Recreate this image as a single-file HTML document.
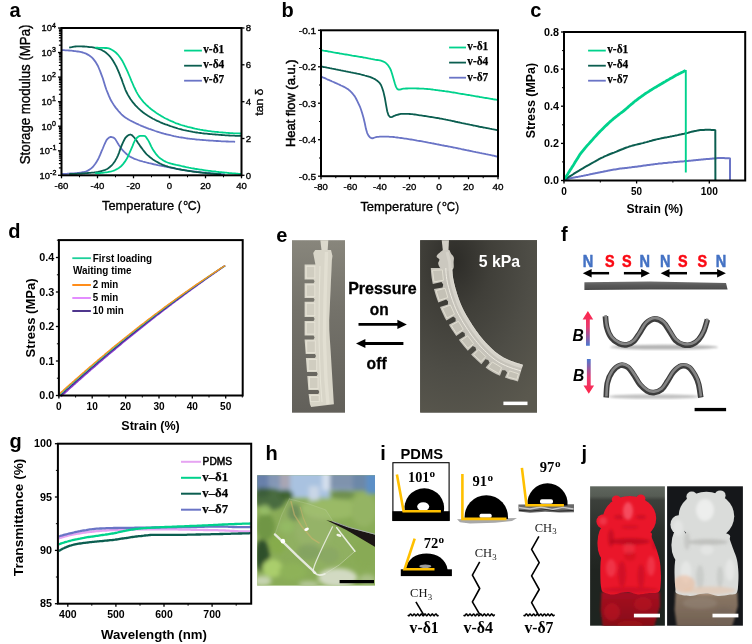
<!DOCTYPE html>
<html lang="en"><head><meta charset="utf-8"><title>Figure</title>
<style>
html,body{margin:0;padding:0;background:#fff;}
body{width:752px;height:644px;overflow:hidden;font-family:"Liberation Sans",Arial,sans-serif;}
svg{display:block;}
</style></head>
<body>
<svg width="752" height="644" viewBox="0 0 752 644" font-family="'Liberation Sans', Arial, sans-serif">
<defs>
<filter id="b1" x="-20%" y="-20%" width="140%" height="140%"><feGaussianBlur stdDeviation="0.75"/></filter>
<filter id="b25" x="-30%" y="-30%" width="160%" height="160%"><feGaussianBlur stdDeviation="2.2"/></filter>
<filter id="b18" x="-30%" y="-30%" width="160%" height="160%"><feGaussianBlur stdDeviation="1.8"/></filter>
<filter id="b2" x="-20%" y="-20%" width="140%" height="140%"><feGaussianBlur stdDeviation="1.2"/></filter>
<filter id="b3" x="-30%" y="-30%" width="160%" height="160%"><feGaussianBlur stdDeviation="2.5"/></filter>
<filter id="b5" x="-40%" y="-40%" width="180%" height="180%"><feGaussianBlur stdDeviation="5"/></filter>
<clipPath id="ce1"><rect x="292" y="240.2" width="53" height="172.5"/></clipPath>
<clipPath id="ce2"><rect x="420.2" y="240.2" width="116.8" height="172.3"/></clipPath>
<clipPath id="ch"><rect x="257.2" y="475.2" width="117.8" height="110.4"/></clipPath>
<clipPath id="cj1"><rect x="590.1" y="486.3" width="74.8" height="139.4"/></clipPath>
<clipPath id="cj2"><rect x="667.1" y="486.3" width="75.8" height="139.4"/></clipPath>
<radialGradient id="ge2" cx="0.3" cy="0.12" r="1.0"><stop offset="0" stop-color="#2d2c28"/><stop offset="0.3" stop-color="#403f39"/><stop offset="0.65" stop-color="#4e4d46"/><stop offset="1" stop-color="#5a584e"/></radialGradient>
<linearGradient id="ge1" x1="0" y1="0" x2="0" y2="1"><stop offset="0" stop-color="#88867c"/><stop offset="0.4" stop-color="#74726a"/><stop offset="1" stop-color="#62605a"/></linearGradient>
<linearGradient id="gj1" x1="0" y1="0" x2="0" y2="1"><stop offset="0" stop-color="#5f665e"/><stop offset="0.07" stop-color="#565c54"/><stop offset="0.1" stop-color="#3c403b"/><stop offset="0.3" stop-color="#2c302c"/><stop offset="0.6" stop-color="#202420"/><stop offset="1" stop-color="#1e2420"/></linearGradient>
<linearGradient id="gup" x1="0" y1="0" x2="0" y2="1"><stop offset="0" stop-color="#ff2448"/><stop offset="0.45" stop-color="#e83a70"/><stop offset="1" stop-color="#4a78d0"/></linearGradient>
<linearGradient id="gdn" x1="0" y1="0" x2="0" y2="1"><stop offset="0" stop-color="#4a78d0"/><stop offset="0.55" stop-color="#e83a70"/><stop offset="1" stop-color="#ff2448"/></linearGradient>
<linearGradient id="gstrip" x1="0" y1="0" x2="0" y2="1"><stop offset="0" stop-color="#707070"/><stop offset="0.4" stop-color="#5a5a5a"/><stop offset="1" stop-color="#4a4a4a"/></linearGradient>
<radialGradient id="gred" cx="0.45" cy="0.35" r="0.7"><stop offset="0" stop-color="#f5202c"/><stop offset="0.6" stop-color="#e0141e"/><stop offset="1" stop-color="#b80c16"/></radialGradient>
<radialGradient id="gwh" cx="0.45" cy="0.35" r="0.7"><stop offset="0" stop-color="#eef1f0"/><stop offset="0.6" stop-color="#dde0df"/><stop offset="1" stop-color="#c4c6c4"/></radialGradient>
<linearGradient id="gwb" x1="0" y1="0" x2="0" y2="1"><stop offset="0" stop-color="#d9dbd8"/><stop offset="0.7" stop-color="#dcd6cf"/><stop offset="1" stop-color="#e6bfa4"/></linearGradient>
<linearGradient id="grb" x1="0" y1="0" x2="0" y2="1"><stop offset="0" stop-color="#d8121c"/><stop offset="1" stop-color="#e01822"/></linearGradient>
</defs>
<rect width="752" height="644" fill="#fff"/>
<g><text x="9.5" y="16.8" font-size="20" font-weight="bold">a</text>
<polyline points="61.5,173.9 62.8,173.9 64,173.9 65.3,173.8 66.5,173.8 67.8,173.7 69,173.6 70.3,173.5 71.5,173.4 72.8,173.4 74,173.3 75.3,173.2 76.5,173.1 77.8,172.9 79,172.8 80.3,172.6 81.5,172.5 82.8,172.2 84,172 85.3,171.7 86.5,171.3 87.8,170.6 89,169.9 90.3,169.1 91.5,168.1 92.8,167 94,165.5 95.3,163.8 96.5,161.9 97.8,159.8 99,157.4 100.3,154.4 101.5,151.4 102.8,148.5 104,145.5 105.3,142.6 106.5,140.2 107.8,138.7 109,137.6 110.3,137 111.5,137 112.8,137.4 114,137.9 115.3,139.1 116.5,141.1 117.8,143.3 119,145.2 120.3,147 121.5,148.7 122.8,150.4 124,151.7 125.3,152.9 126.5,154 127.8,155 129,155.9 130.3,156.7 131.5,157.4 132.8,158 134,158.6 135.3,159.1 136.5,159.5 137.8,160 139,160.4 140.3,160.8 141.5,161.1 142.8,161.5 144,161.8 145.3,162.2 146.5,162.5 147.8,162.8 149,163.2 150.3,163.4 151.5,163.7 152.8,164 154,164.3 155.3,164.5 156.5,164.8 157.8,165.1 159,165.3 160.3,165.6 161.5,165.8 162.8,166 164,166.3 165.3,166.5 166.5,166.8 167.8,167 169,167.3 170.3,167.5 171.5,167.8 172.8,168 174,168.3 175.3,168.5 176.5,168.8 177.8,169 179,169.2 180.3,169.4 181.5,169.7 182.8,169.9 184,170.1 185.3,170.3 186.5,170.4 187.8,170.6 189,170.8 190.3,171 191.5,171.1 192.8,171.3 194,171.4 195.3,171.6 196.5,171.7 197.8,171.9 199,172 200.3,172.2 201.5,172.3 202.8,172.4 204,172.6 205.3,172.7 206.5,172.8 207.8,172.9 209,173 210.3,173.2 211.5,173.3 212.8,173.4 214,173.5 215.3,173.6 216.5,173.7 217.8,173.8 219,173.9 220.3,174 221.5,174.1 222.8,174.1 224,174.2 224.8,174.3" fill="none" stroke="#6a74c6" stroke-width="1.8" stroke-linejoin="round"/>
<polyline points="69.2,173.9 70.4,173.9 71.7,173.9 72.9,173.9 74.2,173.9 75.4,173.8 76.7,173.8 77.9,173.7 79.2,173.7 80.4,173.6 81.7,173.5 82.9,173.4 84.2,173.3 85.4,173.2 86.7,173.1 87.9,173 89.2,172.9 90.4,172.8 91.7,172.7 92.9,172.6 94.2,172.5 95.4,172.3 96.7,172.1 97.9,171.9 99.2,171.6 100.4,171.3 101.7,171 102.9,170.6 104.2,170.2 105.4,169.8 106.7,169.2 107.9,168.5 109.2,167.6 110.4,166.5 111.7,165.3 112.9,164 114.2,162.3 115.4,160.4 116.7,158.1 117.9,155.6 119.2,152.3 120.4,148.6 121.7,145.4 122.9,142.6 124.2,140 125.4,137.8 126.7,136.5 127.9,135.5 129.2,134.8 130.4,134.5 131.7,135 132.9,136.1 134.2,137.5 135.4,139 136.7,140.7 137.9,142.7 139.2,144.6 140.4,146.4 141.7,148.1 142.9,149.8 144.2,151.4 145.4,152.9 146.7,154.3 147.9,155.4 149.2,156.5 150.4,157.6 151.7,158.5 152.9,159.4 154.2,160.3 155.4,161 156.7,161.7 157.9,162.4 159.2,163.1 160.4,163.7 161.7,164.3 162.9,164.8 164.2,165.3 165.4,165.8 166.7,166.2 167.9,166.6 169.2,167 170.4,167.3 171.7,167.6 172.9,167.9 174.2,168.2 175.4,168.5 176.7,168.8 177.9,169.1 179.2,169.3 180.4,169.5 181.7,169.8 182.9,170 184.2,170.2 185.4,170.4 186.7,170.7 187.9,170.9 189.2,171 190.4,171.2 191.7,171.4 192.9,171.6 194.2,171.8 195.4,171.9 196.7,172.1 197.9,172.2 199.2,172.4 200.4,172.5 201.7,172.7 202.9,172.8 204.2,172.9 205.4,173 206.7,173.2 207.9,173.3 209.2,173.4 210.4,173.5 211.7,173.6 212.9,173.7 214.2,173.8 215.4,173.9 216.7,174 217.9,174.1 219.2,174.2 220.4,174.2 221.3,174.3" fill="none" stroke="#0b5e50" stroke-width="1.8" stroke-linejoin="round"/>
<polyline points="95.1,173.2 96.3,173.2 97.6,173.2 98.8,173.1 100.1,173 101.3,172.9 102.6,172.8 103.8,172.6 105.1,172.4 106.3,172.3 107.6,172.1 108.8,171.8 110.1,171.6 111.3,171.4 112.6,171 113.8,170.6 115.1,170 116.3,169.4 117.6,168.7 118.8,168 120.1,167.1 121.3,166 122.6,164.7 123.8,163.1 125.1,161.4 126.3,159.6 127.6,157.3 128.8,154.5 130.1,151.6 131.3,148.8 132.6,145.9 133.8,142.8 135.1,140.2 136.3,138.5 137.6,137.2 138.8,136.3 140.1,135.9 141.3,135.9 142.6,135.9 143.8,135.9 145.1,136.1 146.3,137.4 147.6,139.4 148.8,141.4 150.1,144 151.3,146.6 152.6,149 153.8,150.9 155.1,152.7 156.3,154.4 157.6,155.9 158.8,157.1 160.1,158.2 161.3,159.1 162.6,159.9 163.8,160.7 165.1,161.4 166.3,162 167.6,162.5 168.8,162.9 170.1,163.3 171.3,163.7 172.6,164 173.8,164.3 175.1,164.6 176.3,164.9 177.6,165.1 178.8,165.4 180.1,165.7 181.3,166 182.6,166.3 183.8,166.5 185.1,166.8 186.3,167.1 187.6,167.3 188.8,167.6 190.1,167.8 191.3,168.1 192.6,168.3 193.8,168.5 195.1,168.8 196.3,169 197.6,169.2 198.8,169.4 200.1,169.6 201.3,169.7 202.6,169.9 203.8,170.1 205.1,170.3 206.3,170.5 207.6,170.6 208.8,170.8 210.1,170.9 211.3,171.1 212.6,171.3 213.8,171.4 215.1,171.5 216.3,171.7 217.6,171.8 218.8,172 220.1,172.1 221.3,172.2 222.6,172.4 223.8,172.5 225.1,172.6 226.3,172.7 227.6,172.8 228.8,173 230.1,173.1 231.3,173.2 232.6,173.3 233.8,173.4 235.1,173.5 236.3,173.6 237.6,173.7 238.8,173.8 240.1,173.9 241,173.9" fill="none" stroke="#00d28c" stroke-width="1.8" stroke-linejoin="round"/>
<polyline points="61.5,50.1 62.8,50.2 64,50.2 65.3,50.3 66.5,50.3 67.8,50.4 69,50.5 70.3,50.6 71.5,50.7 72.8,50.8 74,51 75.3,51.1 76.5,51.3 77.8,51.5 79,51.7 80.3,51.9 81.5,52.2 82.8,52.5 84,52.9 85.3,53.3 86.5,53.9 87.8,54.6 89,55.3 90.3,56.2 91.5,57.1 92.8,58.4 94,59.9 95.3,61.6 96.5,63.5 97.8,65.7 99,68.5 100.3,71.6 101.5,74.9 102.8,78.3 104,82.3 105.3,86.4 106.5,90 107.8,93.2 109,96.2 110.3,99 111.5,101.3 112.8,103.4 114,105.3 115.3,107.1 116.5,108.7 117.8,110.2 119,111.7 120.3,113 121.5,114.3 122.8,115.5 124,116.5 125.3,117.5 126.5,118.3 127.8,119.1 129,119.8 130.3,120.5 131.5,121.1 132.8,121.7 134,122.4 135.3,123 136.5,123.6 137.8,124.1 139,124.7 140.3,125.3 141.5,125.8 142.8,126.3 144,126.8 145.3,127.3 146.5,127.8 147.8,128.3 149,128.8 150.3,129.2 151.5,129.7 152.8,130.1 154,130.5 155.3,131 156.5,131.4 157.8,131.8 159,132.2 160.3,132.6 161.5,133 162.8,133.3 164,133.7 165.3,134 166.5,134.3 167.8,134.6 169,134.9 170.3,135.2 171.5,135.5 172.8,135.8 174,136.1 175.3,136.3 176.5,136.6 177.8,136.8 179,137.1 180.3,137.3 181.5,137.5 182.8,137.7 184,137.9 185.3,138.1 186.5,138.3 187.8,138.5 189,138.6 190.3,138.8 191.5,138.9 192.8,139.1 194,139.2 195.3,139.3 196.5,139.5 197.8,139.6 199,139.7 200.3,139.8 201.5,139.9 202.8,140 204,140.1 205.3,140.2 206.5,140.3 207.8,140.4 209,140.5 210.3,140.6 211.5,140.7 212.8,140.7 214,140.8 215.3,140.9 216.5,141 217.8,141 219,141.1 220.3,141.2 221.5,141.3 222.8,141.3 224,141.4 225.3,141.4 226.5,141.5 227.8,141.5 229,141.6 230.3,141.6 231.5,141.7 232.8,141.7 234,141.7 235.1,141.8" fill="none" stroke="#6a74c6" stroke-width="1.8" stroke-linejoin="round"/>
<polyline points="69.2,47.7 70.4,47.4 71.7,47.2 72.9,46.9 74.2,46.7 75.4,46.5 76.7,46.4 77.9,46.4 79.2,46.3 80.4,46.4 81.7,46.4 82.9,46.5 84.2,46.5 85.4,46.6 86.7,46.7 87.9,46.8 89.2,47 90.4,47.1 91.7,47.2 92.9,47.4 94.2,47.7 95.4,48 96.7,48.3 97.9,48.7 99.2,49.1 100.4,49.5 101.7,50 102.9,50.7 104.2,51.4 105.4,52.3 106.7,53.3 107.9,54.4 109.2,55.6 110.4,57 111.7,58.7 112.9,60.6 114.2,62.7 115.4,64.9 116.7,67.3 117.9,70.1 119.2,73.1 120.4,76.3 121.7,79.4 122.9,83 124.2,86.5 125.4,89.8 126.7,92.5 127.9,94.9 129.2,97 130.4,99 131.7,100.8 132.9,102.4 134.2,103.9 135.4,105.4 136.7,106.7 137.9,107.9 139.2,109.1 140.4,110.2 141.7,111.2 142.9,112.2 144.2,113.2 145.4,114.1 146.7,114.9 147.9,115.8 149.2,116.5 150.4,117.3 151.7,118 152.9,118.7 154.2,119.3 155.4,120 156.7,120.6 157.9,121.2 159.2,121.7 160.4,122.3 161.7,122.8 162.9,123.3 164.2,123.8 165.4,124.3 166.7,124.7 167.9,125.2 169.2,125.6 170.4,126.1 171.7,126.5 172.9,126.9 174.2,127.3 175.4,127.7 176.7,128.1 177.9,128.5 179.2,128.9 180.4,129.2 181.7,129.5 182.9,129.9 184.2,130.2 185.4,130.4 186.7,130.7 187.9,130.9 189.2,131.2 190.4,131.4 191.7,131.6 192.9,131.9 194.2,132.1 195.4,132.3 196.7,132.5 197.9,132.7 199.2,132.8 200.4,133 201.7,133.2 202.9,133.3 204.2,133.5 205.4,133.6 206.7,133.7 207.9,133.9 209.2,134 210.4,134.1 211.7,134.2 212.9,134.3 214.2,134.4 215.4,134.5 216.7,134.6 217.9,134.7 219.2,134.8 220.4,134.9 221.7,135 222.9,135.1 224.2,135.2 225.4,135.3 226.7,135.4 227.9,135.4 229.2,135.5 230.4,135.6 231.7,135.6 232.9,135.7 234.2,135.7 235.4,135.8 236.7,135.8 237.9,135.8 239.2,135.9 240.4,135.9 241,135.9" fill="none" stroke="#0b5e50" stroke-width="1.8" stroke-linejoin="round"/>
<polyline points="95.1,47.7 96.3,47.7 97.6,47.7 98.8,47.8 100.1,47.8 101.3,47.8 102.6,47.8 103.8,47.9 105.1,48 106.3,48 107.6,48.1 108.8,48.4 110.1,48.9 111.3,49.5 112.6,50.2 113.8,51 115.1,51.9 116.3,53 117.6,54.3 118.8,55.8 120.1,57.5 121.3,59.2 122.6,61.3 123.8,63.7 125.1,66.3 126.3,68.9 127.6,71.6 128.8,74.5 130.1,77.5 131.3,80.6 132.6,83.5 133.8,86.3 135.1,89 136.3,91.6 137.6,93.9 138.8,95.9 140.1,97.7 141.3,99.3 142.6,100.9 143.8,102.3 145.1,103.6 146.3,104.8 147.6,106 148.8,107.1 150.1,108.2 151.3,109.2 152.6,110.2 153.8,111.1 155.1,112 156.3,112.9 157.6,113.7 158.8,114.5 160.1,115.3 161.3,116.1 162.6,116.8 163.8,117.5 165.1,118.2 166.3,118.8 167.6,119.4 168.8,120 170.1,120.6 171.3,121.2 172.6,121.7 173.8,122.2 175.1,122.8 176.3,123.3 177.6,123.7 178.8,124.2 180.1,124.6 181.3,125 182.6,125.4 183.8,125.7 185.1,126.1 186.3,126.4 187.6,126.8 188.8,127.1 190.1,127.4 191.3,127.7 192.6,128 193.8,128.3 195.1,128.6 196.3,128.8 197.6,129.1 198.8,129.3 200.1,129.6 201.3,129.8 202.6,130 203.8,130.3 205.1,130.5 206.3,130.7 207.6,130.9 208.8,131.1 210.1,131.2 211.3,131.4 212.6,131.6 213.8,131.7 215.1,131.8 216.3,131.9 217.6,132 218.8,132.2 220.1,132.3 221.3,132.4 222.6,132.5 223.8,132.6 225.1,132.7 226.3,132.8 227.6,132.9 228.8,133 230.1,133.1 231.3,133.1 232.6,133.2 233.8,133.3 235.1,133.3 236.3,133.4 237.6,133.4 238.8,133.4 240.1,133.5 241,133.5" fill="none" stroke="#00d28c" stroke-width="1.8" stroke-linejoin="round"/>
<rect x="61.5" y="28" width="180" height="147.3" fill="none" stroke="#000" stroke-width="2"/>
<line x1="58" y1="28" x2="61.5" y2="28" stroke="#000" stroke-width="1.3"/>
<line x1="58.9" y1="45.2" x2="61.5" y2="45.2" stroke="#000" stroke-width="1.2"/>
<line x1="58.9" y1="40.8" x2="61.5" y2="40.8" stroke="#000" stroke-width="1.2"/>
<line x1="58.9" y1="37.8" x2="61.5" y2="37.8" stroke="#000" stroke-width="1.2"/>
<line x1="58.9" y1="35.4" x2="61.5" y2="35.4" stroke="#000" stroke-width="1.2"/>
<line x1="58.9" y1="33.4" x2="61.5" y2="33.4" stroke="#000" stroke-width="1.2"/>
<line x1="58.9" y1="31.8" x2="61.5" y2="31.8" stroke="#000" stroke-width="1.2"/>
<line x1="58.9" y1="30.4" x2="61.5" y2="30.4" stroke="#000" stroke-width="1.2"/>
<line x1="58.9" y1="29.1" x2="61.5" y2="29.1" stroke="#000" stroke-width="1.2"/>
<text x="51.9" y="31.4" font-size="9.4" text-anchor="end" textLength="10.4" lengthAdjust="spacingAndGlyphs" stroke="#000" stroke-width="0.35">10</text>
<text x="52.1" y="27.6" font-size="6.4" textLength="3.9" lengthAdjust="spacingAndGlyphs" stroke="#000" stroke-width="0.35">4</text>
<line x1="58" y1="52.5" x2="61.5" y2="52.5" stroke="#000" stroke-width="1.3"/>
<line x1="58.9" y1="69.7" x2="61.5" y2="69.7" stroke="#000" stroke-width="1.2"/>
<line x1="58.9" y1="65.4" x2="61.5" y2="65.4" stroke="#000" stroke-width="1.2"/>
<line x1="58.9" y1="62.3" x2="61.5" y2="62.3" stroke="#000" stroke-width="1.2"/>
<line x1="58.9" y1="59.9" x2="61.5" y2="59.9" stroke="#000" stroke-width="1.2"/>
<line x1="58.9" y1="58" x2="61.5" y2="58" stroke="#000" stroke-width="1.2"/>
<line x1="58.9" y1="56.4" x2="61.5" y2="56.4" stroke="#000" stroke-width="1.2"/>
<line x1="58.9" y1="54.9" x2="61.5" y2="54.9" stroke="#000" stroke-width="1.2"/>
<line x1="58.9" y1="53.7" x2="61.5" y2="53.7" stroke="#000" stroke-width="1.2"/>
<text x="51.9" y="55.9" font-size="9.4" text-anchor="end" textLength="10.4" lengthAdjust="spacingAndGlyphs" stroke="#000" stroke-width="0.35">10</text>
<text x="52.1" y="52.1" font-size="6.4" textLength="3.9" lengthAdjust="spacingAndGlyphs" stroke="#000" stroke-width="0.35">3</text>
<line x1="58" y1="77.1" x2="61.5" y2="77.1" stroke="#000" stroke-width="1.3"/>
<line x1="58.9" y1="94.3" x2="61.5" y2="94.3" stroke="#000" stroke-width="1.2"/>
<line x1="58.9" y1="89.9" x2="61.5" y2="89.9" stroke="#000" stroke-width="1.2"/>
<line x1="58.9" y1="86.9" x2="61.5" y2="86.9" stroke="#000" stroke-width="1.2"/>
<line x1="58.9" y1="84.5" x2="61.5" y2="84.5" stroke="#000" stroke-width="1.2"/>
<line x1="58.9" y1="82.5" x2="61.5" y2="82.5" stroke="#000" stroke-width="1.2"/>
<line x1="58.9" y1="80.9" x2="61.5" y2="80.9" stroke="#000" stroke-width="1.2"/>
<line x1="58.9" y1="79.5" x2="61.5" y2="79.5" stroke="#000" stroke-width="1.2"/>
<line x1="58.9" y1="78.2" x2="61.5" y2="78.2" stroke="#000" stroke-width="1.2"/>
<text x="51.9" y="80.5" font-size="9.4" text-anchor="end" textLength="10.4" lengthAdjust="spacingAndGlyphs" stroke="#000" stroke-width="0.35">10</text>
<text x="52.1" y="76.7" font-size="6.4" textLength="3.9" lengthAdjust="spacingAndGlyphs" stroke="#000" stroke-width="0.35">2</text>
<line x1="58" y1="101.7" x2="61.5" y2="101.7" stroke="#000" stroke-width="1.3"/>
<line x1="58.9" y1="118.8" x2="61.5" y2="118.8" stroke="#000" stroke-width="1.2"/>
<line x1="58.9" y1="114.5" x2="61.5" y2="114.5" stroke="#000" stroke-width="1.2"/>
<line x1="58.9" y1="111.4" x2="61.5" y2="111.4" stroke="#000" stroke-width="1.2"/>
<line x1="58.9" y1="109" x2="61.5" y2="109" stroke="#000" stroke-width="1.2"/>
<line x1="58.9" y1="107.1" x2="61.5" y2="107.1" stroke="#000" stroke-width="1.2"/>
<line x1="58.9" y1="105.5" x2="61.5" y2="105.5" stroke="#000" stroke-width="1.2"/>
<line x1="58.9" y1="104" x2="61.5" y2="104" stroke="#000" stroke-width="1.2"/>
<line x1="58.9" y1="102.8" x2="61.5" y2="102.8" stroke="#000" stroke-width="1.2"/>
<text x="51.9" y="105.1" font-size="9.4" text-anchor="end" textLength="10.4" lengthAdjust="spacingAndGlyphs" stroke="#000" stroke-width="0.35">10</text>
<text x="52.1" y="101.2" font-size="6.4" textLength="3.9" lengthAdjust="spacingAndGlyphs" stroke="#000" stroke-width="0.35">1</text>
<line x1="58" y1="126.2" x2="61.5" y2="126.2" stroke="#000" stroke-width="1.3"/>
<line x1="58.9" y1="143.4" x2="61.5" y2="143.4" stroke="#000" stroke-width="1.2"/>
<line x1="58.9" y1="139" x2="61.5" y2="139" stroke="#000" stroke-width="1.2"/>
<line x1="58.9" y1="136" x2="61.5" y2="136" stroke="#000" stroke-width="1.2"/>
<line x1="58.9" y1="133.6" x2="61.5" y2="133.6" stroke="#000" stroke-width="1.2"/>
<line x1="58.9" y1="131.6" x2="61.5" y2="131.6" stroke="#000" stroke-width="1.2"/>
<line x1="58.9" y1="130" x2="61.5" y2="130" stroke="#000" stroke-width="1.2"/>
<line x1="58.9" y1="128.6" x2="61.5" y2="128.6" stroke="#000" stroke-width="1.2"/>
<line x1="58.9" y1="127.3" x2="61.5" y2="127.3" stroke="#000" stroke-width="1.2"/>
<text x="51.9" y="129.6" font-size="9.4" text-anchor="end" textLength="10.4" lengthAdjust="spacingAndGlyphs" stroke="#000" stroke-width="0.35">10</text>
<text x="52.1" y="125.8" font-size="6.4" textLength="3.9" lengthAdjust="spacingAndGlyphs" stroke="#000" stroke-width="0.35">0</text>
<line x1="58" y1="150.8" x2="61.5" y2="150.8" stroke="#000" stroke-width="1.3"/>
<line x1="58.9" y1="167.9" x2="61.5" y2="167.9" stroke="#000" stroke-width="1.2"/>
<line x1="58.9" y1="163.6" x2="61.5" y2="163.6" stroke="#000" stroke-width="1.2"/>
<line x1="58.9" y1="160.5" x2="61.5" y2="160.5" stroke="#000" stroke-width="1.2"/>
<line x1="58.9" y1="158.1" x2="61.5" y2="158.1" stroke="#000" stroke-width="1.2"/>
<line x1="58.9" y1="156.2" x2="61.5" y2="156.2" stroke="#000" stroke-width="1.2"/>
<line x1="58.9" y1="154.6" x2="61.5" y2="154.6" stroke="#000" stroke-width="1.2"/>
<line x1="58.9" y1="153.1" x2="61.5" y2="153.1" stroke="#000" stroke-width="1.2"/>
<line x1="58.9" y1="151.9" x2="61.5" y2="151.9" stroke="#000" stroke-width="1.2"/>
<text x="49.9" y="154.2" font-size="9.4" text-anchor="end" textLength="10.4" lengthAdjust="spacingAndGlyphs" stroke="#000" stroke-width="0.35">10</text>
<text x="50.1" y="150.3" font-size="6.4" textLength="6.3" lengthAdjust="spacingAndGlyphs" stroke="#000" stroke-width="0.35">-1</text>
<line x1="58" y1="175.3" x2="61.5" y2="175.3" stroke="#000" stroke-width="1.3"/>
<text x="49.9" y="178.7" font-size="9.4" text-anchor="end" textLength="10.4" lengthAdjust="spacingAndGlyphs" stroke="#000" stroke-width="0.35">10</text>
<text x="50.1" y="174.9" font-size="6.4" textLength="6.3" lengthAdjust="spacingAndGlyphs" stroke="#000" stroke-width="0.35">-2</text>
<line x1="241.5" y1="28" x2="244.5" y2="28" stroke="#000" stroke-width="1.3"/>
<text x="245.7" y="31.4" font-size="9.6" stroke="#000" stroke-width="0.35">8</text>
<line x1="241.5" y1="64.8" x2="244.5" y2="64.8" stroke="#000" stroke-width="1.3"/>
<text x="245.7" y="68.2" font-size="9.6" stroke="#000" stroke-width="0.35">6</text>
<line x1="241.5" y1="101.7" x2="244.5" y2="101.7" stroke="#000" stroke-width="1.3"/>
<text x="245.7" y="105.1" font-size="9.6" stroke="#000" stroke-width="0.35">4</text>
<line x1="241.5" y1="138.5" x2="244.5" y2="138.5" stroke="#000" stroke-width="1.3"/>
<text x="245.7" y="141.9" font-size="9.6" stroke="#000" stroke-width="0.35">2</text>
<line x1="241.5" y1="175.3" x2="244.5" y2="175.3" stroke="#000" stroke-width="1.3"/>
<text x="245.7" y="178.7" font-size="9.6" stroke="#000" stroke-width="0.35">0</text>
<line x1="61.5" y1="175.3" x2="61.5" y2="178.3" stroke="#000" stroke-width="1.3"/>
<line x1="79.5" y1="175.3" x2="79.5" y2="177.3" stroke="#000" stroke-width="1"/>
<text x="61.5" y="188.9" font-size="9.6" text-anchor="middle" stroke="#000" stroke-width="0.35">-60</text>
<line x1="97.5" y1="175.3" x2="97.5" y2="178.3" stroke="#000" stroke-width="1.3"/>
<line x1="115.5" y1="175.3" x2="115.5" y2="177.3" stroke="#000" stroke-width="1"/>
<text x="97.5" y="188.9" font-size="9.6" text-anchor="middle" stroke="#000" stroke-width="0.35">-40</text>
<line x1="133.5" y1="175.3" x2="133.5" y2="178.3" stroke="#000" stroke-width="1.3"/>
<line x1="151.5" y1="175.3" x2="151.5" y2="177.3" stroke="#000" stroke-width="1"/>
<text x="133.5" y="188.9" font-size="9.6" text-anchor="middle" stroke="#000" stroke-width="0.35">-20</text>
<line x1="169.5" y1="175.3" x2="169.5" y2="178.3" stroke="#000" stroke-width="1.3"/>
<line x1="187.5" y1="175.3" x2="187.5" y2="177.3" stroke="#000" stroke-width="1"/>
<text x="169.5" y="188.9" font-size="9.6" text-anchor="middle" stroke="#000" stroke-width="0.35">0</text>
<line x1="205.5" y1="175.3" x2="205.5" y2="178.3" stroke="#000" stroke-width="1.3"/>
<line x1="223.5" y1="175.3" x2="223.5" y2="177.3" stroke="#000" stroke-width="1"/>
<text x="205.5" y="188.9" font-size="9.6" text-anchor="middle" stroke="#000" stroke-width="0.35">20</text>
<line x1="241.5" y1="175.3" x2="241.5" y2="178.3" stroke="#000" stroke-width="1.3"/>
<text x="241.5" y="188.9" font-size="9.6" text-anchor="middle" stroke="#000" stroke-width="0.35">40</text>
<text x="29.6" y="164.2" font-size="14.3" textLength="139.6" lengthAdjust="spacingAndGlyphs" transform="rotate(-90 29.6 164.2)" stroke="#000" stroke-width="0.35">Storage modulus (MPa)</text>
<text x="102" y="210" font-size="13.6" textLength="80" lengthAdjust="spacingAndGlyphs" stroke="#000" stroke-width="0.35">Temperature (</text>
<text x="183.4" y="205.3" font-size="8" textLength="4.3" lengthAdjust="spacingAndGlyphs" stroke="#000" stroke-width="0.35">o</text>
<text x="187.8" y="210" font-size="13.6" textLength="13" lengthAdjust="spacingAndGlyphs" stroke="#000" stroke-width="0.35">C)</text>
<text x="262.7" y="115.7" font-size="11.5" textLength="27" lengthAdjust="spacingAndGlyphs" transform="rotate(-90 262.7 115.7)" stroke="#000" stroke-width="0.35">tan δ</text>
<line x1="184.1" y1="50.6" x2="201.9" y2="50.6" stroke="#00d28c" stroke-width="1.8"/>
<text x="203.2" y="53.2" font-size="11.6" font-family="'Liberation Serif', 'Times New Roman', serif" font-weight="bold" textLength="21" lengthAdjust="spacingAndGlyphs" stroke="#000" stroke-width="0.25">v-δ1</text>
<line x1="184.1" y1="65.7" x2="201.9" y2="65.7" stroke="#0b5e50" stroke-width="1.8"/>
<text x="203.2" y="68.2" font-size="11.6" font-family="'Liberation Serif', 'Times New Roman', serif" font-weight="bold" textLength="21" lengthAdjust="spacingAndGlyphs" stroke="#000" stroke-width="0.25">v-δ4</text>
<line x1="184.1" y1="80.7" x2="201.9" y2="80.7" stroke="#6a74c6" stroke-width="1.8"/>
<text x="203.2" y="83.3" font-size="11.6" font-family="'Liberation Serif', 'Times New Roman', serif" font-weight="bold" textLength="21" lengthAdjust="spacingAndGlyphs" stroke="#000" stroke-width="0.25">v-δ7</text></g>
<g><text x="281.5" y="16.8" font-size="20" font-weight="bold">b</text>
<polyline points="321,76.6 322.2,77.1 323.5,77.7 324.8,78.2 326,78.7 327.2,79.3 328.5,79.8 329.8,80.4 331,80.9 332.2,81.5 333.5,82 334.8,82.6 336,83.2 337.2,83.7 338.5,84.3 339.8,84.9 341,85.5 342.2,86 343.5,86.6 344.8,87.3 346,88 347.2,88.7 348.5,89.6 349.8,90.7 351,91.8 352.2,93.1 353.5,94.7 354.8,96.4 356,98.5 357.2,100.9 358.5,103.6 359.8,106.3 361,109.5 362.2,113.3 363.5,117.8 364.8,123.3 366,129.1 367.2,133.1 368.5,135.7 369.8,137.2 371,137.9 372.2,138.3 373.5,138 374.8,137.5 376,137.2 377.2,136.9 378.5,136.8 379.8,136.7 381,136.7 382.2,136.6 383.5,136.6 384.8,136.6 386,136.6 387.2,136.6 388.5,136.7 389.8,136.8 391,136.8 392.2,136.9 393.5,137 394.8,137.2 396,137.3 397.2,137.5 398.5,137.7 399.8,137.8 401,138 402.2,138.2 403.5,138.4 404.8,138.6 406,138.7 407.2,138.9 408.5,139.1 409.8,139.3 411,139.5 412.2,139.7 413.5,139.9 414.8,140.1 416,140.3 417.2,140.6 418.5,140.8 419.8,141 421,141.2 422.2,141.4 423.5,141.7 424.8,141.9 426,142.1 427.2,142.3 428.5,142.6 429.8,142.8 431,143 432.2,143.3 433.5,143.5 434.8,143.8 436,144 437.2,144.3 438.5,144.5 439.8,144.8 441,145 442.2,145.3 443.5,145.5 444.8,145.8 446,146 447.2,146.2 448.5,146.5 449.8,146.7 451,147 452.2,147.2 453.5,147.5 454.8,147.7 456,148 457.2,148.2 458.5,148.5 459.8,148.7 461,149 462.2,149.3 463.5,149.5 464.8,149.8 466,150 467.2,150.3 468.5,150.5 469.8,150.8 471,151 472.2,151.3 473.5,151.6 474.8,151.8 476,152.1 477.2,152.3 478.5,152.6 479.8,152.9 481,153.1 482.2,153.4 483.5,153.6 484.8,153.9 486,154.2 487.2,154.4 488.5,154.7 489.8,154.9 491,155.2 492.2,155.5 493.5,155.7 494.8,156 496,156.3 497.2,156.5 498,156.7" fill="none" stroke="#6a74c6" stroke-width="1.8" stroke-linejoin="round"/>
<polyline points="321,66.5 322.2,66.7 323.5,67 324.8,67.2 326,67.4 327.2,67.7 328.5,67.9 329.8,68.2 331,68.4 332.2,68.7 333.5,68.9 334.8,69.1 336,69.4 337.2,69.6 338.5,69.9 339.8,70.1 341,70.4 342.2,70.6 343.5,70.9 344.8,71.1 346,71.4 347.2,71.6 348.5,71.9 349.8,72.1 351,72.4 352.2,72.6 353.5,72.9 354.8,73.1 356,73.4 357.2,73.7 358.5,73.9 359.8,74.2 361,74.5 362.2,74.8 363.5,75.1 364.8,75.5 366,75.8 367.2,76.2 368.5,76.5 369.8,76.9 371,77.4 372.2,77.9 373.5,78.5 374.8,79.1 376,79.9 377.2,80.8 378.5,81.9 379.8,83.2 381,85 382.2,88 383.5,92.1 384.8,97.7 386,104.6 387.2,111.2 388.5,115.2 389.8,116.8 391,117.2 392.2,116.9 393.5,116.2 394.8,115.7 396,115.2 397.2,114.8 398.5,114.5 399.8,114.2 401,113.9 402.2,113.8 403.5,113.8 404.8,113.8 406,113.9 407.2,113.9 408.5,113.9 409.8,114 411,114.1 412.2,114.2 413.5,114.3 414.8,114.5 416,114.7 417.2,114.9 418.5,115.1 419.8,115.3 421,115.4 422.2,115.6 423.5,115.8 424.8,116 426,116.2 427.2,116.4 428.5,116.6 429.8,116.8 431,117 432.2,117.2 433.5,117.4 434.8,117.6 436,117.8 437.2,118 438.5,118.2 439.8,118.5 441,118.7 442.2,118.9 443.5,119.2 444.8,119.4 446,119.7 447.2,119.9 448.5,120.2 449.8,120.4 451,120.7 452.2,121 453.5,121.2 454.8,121.5 456,121.8 457.2,122 458.5,122.3 459.8,122.5 461,122.8 462.2,123.1 463.5,123.3 464.8,123.6 466,123.9 467.2,124.1 468.5,124.4 469.8,124.7 471,124.9 472.2,125.2 473.5,125.5 474.8,125.7 476,126 477.2,126.2 478.5,126.5 479.8,126.8 481,127 482.2,127.2 483.5,127.5 484.8,127.7 486,128 487.2,128.2 488.5,128.4 489.8,128.7 491,128.9 492.2,129.2 493.5,129.4 494.8,129.6 496,129.8 497.2,130.1 498,130.2" fill="none" stroke="#0b5e50" stroke-width="1.8" stroke-linejoin="round"/>
<polyline points="321,50.1 322.2,50.3 323.5,50.6 324.8,50.8 326,51 327.2,51.2 328.5,51.5 329.8,51.7 331,51.9 332.2,52.1 333.5,52.4 334.8,52.6 336,52.8 337.2,53 338.5,53.2 339.8,53.5 341,53.7 342.2,53.9 343.5,54.1 344.8,54.3 346,54.5 347.2,54.7 348.5,54.9 349.8,55.1 351,55.3 352.2,55.6 353.5,55.8 354.8,56 356,56.2 357.2,56.4 358.5,56.6 359.8,56.8 361,57 362.2,57.2 363.5,57.5 364.8,57.7 366,57.9 367.2,58.1 368.5,58.4 369.8,58.6 371,58.9 372.2,59.1 373.5,59.3 374.8,59.6 376,59.8 377.2,60 378.5,60.2 379.8,60.4 381,60.7 382.2,61.1 383.5,61.6 384.8,62.2 386,63.1 387.2,64.3 388.5,65.9 389.8,67.9 391,70.5 392.2,74.3 393.5,78.8 394.8,83.2 396,86.9 397.2,88.9 398.5,89.6 399.8,89.5 401,89.3 402.2,88.9 403.5,88.7 404.8,88.6 406,88.5 407.2,88.5 408.5,88.4 409.8,88.4 411,88.4 412.2,88.4 413.5,88.4 414.8,88.4 416,88.4 417.2,88.5 418.5,88.5 419.8,88.6 421,88.6 422.2,88.7 423.5,88.7 424.8,88.8 426,88.9 427.2,89 428.5,89.1 429.8,89.2 431,89.4 432.2,89.5 433.5,89.7 434.8,89.8 436,90 437.2,90.1 438.5,90.3 439.8,90.5 441,90.6 442.2,90.8 443.5,91 444.8,91.2 446,91.3 447.2,91.5 448.5,91.7 449.8,91.9 451,92.1 452.2,92.3 453.5,92.5 454.8,92.7 456,92.9 457.2,93.1 458.5,93.4 459.8,93.6 461,93.8 462.2,94 463.5,94.2 464.8,94.4 466,94.6 467.2,94.8 468.5,95 469.8,95.2 471,95.5 472.2,95.7 473.5,95.9 474.8,96.1 476,96.3 477.2,96.5 478.5,96.7 479.8,97 481,97.2 482.2,97.4 483.5,97.6 484.8,97.8 486,98 487.2,98.2 488.5,98.4 489.8,98.6 491,98.8 492.2,99 493.5,99.3 494.8,99.5 496,99.7 497.2,99.9 498,100" fill="none" stroke="#00d28c" stroke-width="1.8" stroke-linejoin="round"/>
<rect x="321" y="30.3" width="177" height="145.9" fill="none" stroke="#000" stroke-width="2"/>
<line x1="318" y1="30.3" x2="321" y2="30.3" stroke="#000" stroke-width="1.3"/>
<line x1="319" y1="48.5" x2="321" y2="48.5" stroke="#000" stroke-width="1"/>
<text x="316.2" y="33.7" font-size="9.6" text-anchor="end" textLength="17.4" lengthAdjust="spacingAndGlyphs" stroke="#000" stroke-width="0.35">-0.1</text>
<line x1="318" y1="66.8" x2="321" y2="66.8" stroke="#000" stroke-width="1.3"/>
<line x1="319" y1="85" x2="321" y2="85" stroke="#000" stroke-width="1"/>
<text x="316.2" y="70.2" font-size="9.6" text-anchor="end" textLength="17.4" lengthAdjust="spacingAndGlyphs" stroke="#000" stroke-width="0.35">-0.2</text>
<line x1="318" y1="103.2" x2="321" y2="103.2" stroke="#000" stroke-width="1.3"/>
<line x1="319" y1="121.5" x2="321" y2="121.5" stroke="#000" stroke-width="1"/>
<text x="316.2" y="106.6" font-size="9.6" text-anchor="end" textLength="17.4" lengthAdjust="spacingAndGlyphs" stroke="#000" stroke-width="0.35">-0.3</text>
<line x1="318" y1="139.7" x2="321" y2="139.7" stroke="#000" stroke-width="1.3"/>
<line x1="319" y1="158" x2="321" y2="158" stroke="#000" stroke-width="1"/>
<text x="316.2" y="143.1" font-size="9.6" text-anchor="end" textLength="17.4" lengthAdjust="spacingAndGlyphs" stroke="#000" stroke-width="0.35">-0.4</text>
<line x1="318" y1="176.2" x2="321" y2="176.2" stroke="#000" stroke-width="1.3"/>
<text x="316.2" y="179.6" font-size="9.6" text-anchor="end" textLength="17.4" lengthAdjust="spacingAndGlyphs" stroke="#000" stroke-width="0.35">-0.5</text>
<line x1="321" y1="176.2" x2="321" y2="179.2" stroke="#000" stroke-width="1.3"/>
<line x1="335.8" y1="176.2" x2="335.8" y2="178.2" stroke="#000" stroke-width="1"/>
<text x="321" y="190" font-size="9.6" text-anchor="middle" textLength="13.8" lengthAdjust="spacingAndGlyphs" stroke="#000" stroke-width="0.35">-80</text>
<line x1="350.5" y1="176.2" x2="350.5" y2="179.2" stroke="#000" stroke-width="1.3"/>
<line x1="365.2" y1="176.2" x2="365.2" y2="178.2" stroke="#000" stroke-width="1"/>
<text x="350.5" y="190" font-size="9.6" text-anchor="middle" textLength="13.8" lengthAdjust="spacingAndGlyphs" stroke="#000" stroke-width="0.35">-60</text>
<line x1="380" y1="176.2" x2="380" y2="179.2" stroke="#000" stroke-width="1.3"/>
<line x1="394.8" y1="176.2" x2="394.8" y2="178.2" stroke="#000" stroke-width="1"/>
<text x="380" y="190" font-size="9.6" text-anchor="middle" textLength="13.8" lengthAdjust="spacingAndGlyphs" stroke="#000" stroke-width="0.35">-40</text>
<line x1="409.5" y1="176.2" x2="409.5" y2="179.2" stroke="#000" stroke-width="1.3"/>
<line x1="424.2" y1="176.2" x2="424.2" y2="178.2" stroke="#000" stroke-width="1"/>
<text x="409.5" y="190" font-size="9.6" text-anchor="middle" textLength="13.8" lengthAdjust="spacingAndGlyphs" stroke="#000" stroke-width="0.35">-20</text>
<line x1="439" y1="176.2" x2="439" y2="179.2" stroke="#000" stroke-width="1.3"/>
<line x1="453.8" y1="176.2" x2="453.8" y2="178.2" stroke="#000" stroke-width="1"/>
<text x="439" y="190" font-size="9.6" text-anchor="middle" textLength="5.6" lengthAdjust="spacingAndGlyphs" stroke="#000" stroke-width="0.35">0</text>
<line x1="468.5" y1="176.2" x2="468.5" y2="179.2" stroke="#000" stroke-width="1.3"/>
<line x1="483.2" y1="176.2" x2="483.2" y2="178.2" stroke="#000" stroke-width="1"/>
<text x="468.5" y="190" font-size="9.6" text-anchor="middle" textLength="11" lengthAdjust="spacingAndGlyphs" stroke="#000" stroke-width="0.35">20</text>
<line x1="498" y1="176.2" x2="498" y2="179.2" stroke="#000" stroke-width="1.3"/>
<text x="498" y="190" font-size="9.6" text-anchor="middle" textLength="11" lengthAdjust="spacingAndGlyphs" stroke="#000" stroke-width="0.35">40</text>
<text x="294.6" y="147" font-size="13.6" textLength="87.5" lengthAdjust="spacingAndGlyphs" transform="rotate(-90 294.6 147)" stroke="#000" stroke-width="0.5">Heat flow (a.u.)</text>
<text x="360.4" y="210.6" font-size="13.6" textLength="80.5" lengthAdjust="spacingAndGlyphs" stroke="#000" stroke-width="0.35">Temperature (</text>
<text x="442.2" y="205.8" font-size="8" textLength="4.3" lengthAdjust="spacingAndGlyphs" stroke="#000" stroke-width="0.35">o</text>
<text x="446.8" y="210.6" font-size="13.6" textLength="12.2" lengthAdjust="spacingAndGlyphs" stroke="#000" stroke-width="0.35">C)</text>
<line x1="449.1" y1="47.5" x2="466" y2="47.5" stroke="#00d28c" stroke-width="1.8"/>
<text x="467.3" y="50.3" font-size="11.6" font-family="'Liberation Serif', 'Times New Roman', serif" font-weight="bold" textLength="21" lengthAdjust="spacingAndGlyphs" stroke="#000" stroke-width="0.25">v-δ1</text>
<line x1="449.1" y1="62.6" x2="466" y2="62.6" stroke="#0b5e50" stroke-width="1.8"/>
<text x="467.3" y="65.4" font-size="11.6" font-family="'Liberation Serif', 'Times New Roman', serif" font-weight="bold" textLength="21" lengthAdjust="spacingAndGlyphs" stroke="#000" stroke-width="0.25">v-δ4</text>
<line x1="449.1" y1="77.7" x2="466" y2="77.7" stroke="#6a74c6" stroke-width="1.8"/>
<text x="467.3" y="80.5" font-size="11.6" font-family="'Liberation Serif', 'Times New Roman', serif" font-weight="bold" textLength="21" lengthAdjust="spacingAndGlyphs" stroke="#000" stroke-width="0.25">v-δ7</text></g>
<g><text x="530.3" y="16.8" font-size="20" font-weight="bold">c</text>
<polyline points="564,180 565.2,179.6 566.5,179.3 567.8,179 569,178.6 570.2,178.3 571.5,178.1 572.8,177.8 574,177.6 575.2,177.3 576.5,177.1 577.8,176.9 579,176.6 580.2,176.4 581.5,176.1 582.8,175.9 584,175.6 585.2,175.4 586.5,175.1 587.8,174.9 589,174.6 590.2,174.3 591.5,174.1 592.8,173.8 594,173.6 595.2,173.3 596.5,173.1 597.8,172.8 599,172.6 600.2,172.3 601.5,172 602.8,171.8 604,171.5 605.2,171.2 606.5,171 607.8,170.7 609,170.4 610.2,170.2 611.5,170 612.8,169.8 614,169.6 615.2,169.4 616.5,169.2 617.8,169 619,168.8 620.2,168.6 621.5,168.5 622.8,168.3 624,168.2 625.2,168 626.5,167.9 627.8,167.7 629,167.6 630.2,167.4 631.5,167.3 632.8,167.1 634,167 635.2,166.8 636.5,166.7 637.8,166.5 639,166.3 640.2,166.2 641.5,166 642.8,165.8 644,165.6 645.2,165.5 646.5,165.3 647.8,165.1 649,164.9 650.2,164.7 651.5,164.6 652.8,164.4 654,164.2 655.2,164.1 656.5,163.9 657.8,163.8 659,163.6 660.2,163.5 661.5,163.4 662.8,163.2 664,163.1 665.2,163 666.5,162.9 667.8,162.7 669,162.6 670.2,162.5 671.5,162.4 672.8,162.3 674,162.1 675.2,162 676.5,161.9 677.8,161.8 679,161.7 680.2,161.6 681.5,161.5 682.8,161.4 684,161.3 685.2,161.1 686.5,161 687.8,160.9 689,160.8 690.2,160.7 691.5,160.6 692.8,160.4 694,160.3 695.2,160.2 696.5,160.1 697.8,160 699,159.8 700.2,159.7 701.5,159.6 702.8,159.5 704,159.3 705.2,159.2 706.5,159.1 707.8,159 709,158.9 710.2,158.8 711.5,158.7 712.8,158.5 714,158.4 715.2,158.3 716.5,158.2 717.8,158.1 719,158.1 720.2,158.1 721.5,158.1 722.8,158.1 724,158.1 725.2,158.2 726.5,158.2 727.8,158.3 729,158.3 730,158.4 730,180.5" fill="none" stroke="#6a74c6" stroke-width="2" stroke-linejoin="round" stroke-linejoin="miter"/>
<polyline points="564,180 565.2,179.2 566.5,178.4 567.8,177.6 569,176.8 570.2,176 571.5,175.3 572.8,174.5 574,173.7 575.2,172.9 576.5,172.1 577.8,171.3 579,170.6 580.2,169.8 581.5,169.1 582.8,168.4 584,167.6 585.2,166.9 586.5,166.2 587.8,165.5 589,164.8 590.2,164.1 591.5,163.4 592.8,162.7 594,162 595.2,161.3 596.5,160.6 597.8,159.9 599,159.2 600.2,158.5 601.5,157.9 602.8,157.3 604,156.7 605.2,156.1 606.5,155.6 607.8,155 609,154.5 610.2,154 611.5,153.5 612.8,153 614,152.6 615.2,152.1 616.5,151.6 617.8,151 619,150.5 620.2,150 621.5,149.5 622.8,149 624,148.5 625.2,148 626.5,147.5 627.8,147.1 629,146.6 630.2,146.2 631.5,145.9 632.8,145.5 634,145.2 635.2,144.9 636.5,144.6 637.8,144.3 639,144 640.2,143.7 641.5,143.4 642.8,143.1 644,142.7 645.2,142.4 646.5,142.1 647.8,141.7 649,141.4 650.2,141 651.5,140.7 652.8,140.3 654,140 655.2,139.7 656.5,139.4 657.8,139.1 659,138.9 660.2,138.6 661.5,138.3 662.8,138.1 664,137.8 665.2,137.6 666.5,137.4 667.8,137.1 669,136.9 670.2,136.6 671.5,136.4 672.8,136.1 674,135.9 675.2,135.6 676.5,135.4 677.8,135.1 679,134.8 680.2,134.6 681.5,134.3 682.8,134 684,133.8 685.2,133.5 686.5,133.2 687.8,132.9 689,132.5 690.2,132.1 691.5,131.8 692.8,131.5 694,131.2 695.2,130.9 696.5,130.7 697.8,130.4 699,130.2 700.2,130.1 701.5,130 702.8,129.9 704,129.9 705.2,129.8 706.5,129.8 707.8,129.8 709,129.8 710.2,129.8 711.5,129.9 712.8,130 714,130.1 715.2,130.2 715.3,130.2 715.4,180.5" fill="none" stroke="#0b5e50" stroke-width="2" stroke-linejoin="round"/>
<polyline points="564,180 565.2,177.9 566.5,175.9 567.8,173.9 569,171.9 570.2,170 571.5,168.1 572.8,166.1 574,164.1 575.2,162 576.5,160 577.8,157.9 579,156 580.2,154.1 581.5,152.4 582.8,150.8 584,149.3 585.2,147.8 586.5,146.3 587.8,144.9 589,143.6 590.2,142.2 591.5,140.8 592.8,139.3 594,137.9 595.2,136.6 596.5,135.2 597.8,133.8 599,132.5 600.2,131.2 601.5,130 602.8,128.7 604,127.5 605.2,126.3 606.5,125.1 607.8,123.9 609,122.8 610.2,121.6 611.5,120.5 612.8,119.4 614,118.3 615.2,117.3 616.5,116.3 617.8,115.4 619,114.4 620.2,113.5 621.5,112.5 622.8,111.6 624,110.6 625.2,109.6 626.5,108.5 627.8,107.4 629,106.3 630.2,105.2 631.5,104.1 632.8,103.1 634,102 635.2,101 636.5,100.1 637.8,99.1 639,98.2 640.2,97.3 641.5,96.4 642.8,95.5 644,94.6 645.2,93.7 646.5,92.9 647.8,92.1 649,91.3 650.2,90.4 651.5,89.7 652.8,88.9 654,88.1 655.2,87.4 656.5,86.7 657.8,85.9 659,85.2 660.2,84.5 661.5,83.8 662.8,83 664,82.3 665.2,81.6 666.5,80.8 667.8,80.1 669,79.4 670.2,78.6 671.5,77.9 672.8,77.2 674,76.5 675.2,75.8 676.5,75.1 677.8,74.5 679,73.8 680.2,73.2 681.5,72.5 682.8,71.9 684,71.3 685.2,70.7 685.5,70.6" fill="none" stroke="#00d28c" stroke-width="2.8" stroke-linejoin="round"/>
<polyline points="685.8,70 685.8,172.5" fill="none" stroke="#00d28c" stroke-width="1.9" stroke-linejoin="round"/>
<rect x="564" y="32" width="181.2" height="148.5" fill="none" stroke="#000" stroke-width="2"/>
<line x1="561" y1="32" x2="564" y2="32" stroke="#000" stroke-width="1.3"/>
<line x1="562" y1="50.6" x2="564" y2="50.6" stroke="#000" stroke-width="1"/>
<text x="559" y="35.8" font-size="10.6" font-weight="bold" text-anchor="end" textLength="15" lengthAdjust="spacingAndGlyphs">0.8</text>
<line x1="561" y1="69.1" x2="564" y2="69.1" stroke="#000" stroke-width="1.3"/>
<line x1="562" y1="87.7" x2="564" y2="87.7" stroke="#000" stroke-width="1"/>
<text x="559" y="72.9" font-size="10.6" font-weight="bold" text-anchor="end" textLength="15" lengthAdjust="spacingAndGlyphs">0.6</text>
<line x1="561" y1="106.2" x2="564" y2="106.2" stroke="#000" stroke-width="1.3"/>
<line x1="562" y1="124.8" x2="564" y2="124.8" stroke="#000" stroke-width="1"/>
<text x="559" y="110" font-size="10.6" font-weight="bold" text-anchor="end" textLength="15" lengthAdjust="spacingAndGlyphs">0.4</text>
<line x1="561" y1="143.4" x2="564" y2="143.4" stroke="#000" stroke-width="1.3"/>
<line x1="562" y1="161.9" x2="564" y2="161.9" stroke="#000" stroke-width="1"/>
<text x="559" y="147.2" font-size="10.6" font-weight="bold" text-anchor="end" textLength="15" lengthAdjust="spacingAndGlyphs">0.2</text>
<line x1="561" y1="180.5" x2="564" y2="180.5" stroke="#000" stroke-width="1.3"/>
<text x="559" y="184.3" font-size="10.6" font-weight="bold" text-anchor="end" textLength="15" lengthAdjust="spacingAndGlyphs">0.0</text>
<line x1="564" y1="180.5" x2="564" y2="183.5" stroke="#000" stroke-width="1.3"/>
<line x1="600.3" y1="180.5" x2="600.3" y2="182.5" stroke="#000" stroke-width="1"/>
<text x="564" y="194.8" font-size="10" font-weight="bold" text-anchor="middle" textLength="5.6" lengthAdjust="spacingAndGlyphs">0</text>
<line x1="636.6" y1="180.5" x2="636.6" y2="183.5" stroke="#000" stroke-width="1.3"/>
<line x1="672.9" y1="180.5" x2="672.9" y2="182.5" stroke="#000" stroke-width="1"/>
<text x="636.6" y="194.8" font-size="10" font-weight="bold" text-anchor="middle" textLength="11" lengthAdjust="spacingAndGlyphs">50</text>
<line x1="709.3" y1="180.5" x2="709.3" y2="183.5" stroke="#000" stroke-width="1.3"/>
<text x="709.3" y="194.8" font-size="10" font-weight="bold" text-anchor="middle" textLength="17" lengthAdjust="spacingAndGlyphs">100</text>
<text x="535" y="138.2" font-size="12.5" font-weight="bold" textLength="75.4" lengthAdjust="spacingAndGlyphs" transform="rotate(-90 535 138.2)">Stress (MPa)</text>
<text x="626.5" y="212.5" font-size="12.5" font-weight="bold" textLength="56.5" lengthAdjust="spacingAndGlyphs">Strain (%)</text>
<line x1="588.1" y1="50.6" x2="605.8" y2="50.6" stroke="#00d28c" stroke-width="1.8"/>
<text x="607.2" y="53.2" font-size="11.6" font-family="'Liberation Serif', 'Times New Roman', serif" font-weight="bold" textLength="21" lengthAdjust="spacingAndGlyphs" stroke="#000" stroke-width="0.25">v-δ1</text>
<line x1="588.1" y1="65.7" x2="605.8" y2="65.7" stroke="#0b5e50" stroke-width="1.8"/>
<text x="607.2" y="68.2" font-size="11.6" font-family="'Liberation Serif', 'Times New Roman', serif" font-weight="bold" textLength="21" lengthAdjust="spacingAndGlyphs" stroke="#000" stroke-width="0.25">v-δ4</text>
<line x1="588.1" y1="80.7" x2="605.8" y2="80.7" stroke="#6a74c6" stroke-width="1.8"/>
<text x="607.2" y="83.3" font-size="11.6" font-family="'Liberation Serif', 'Times New Roman', serif" font-weight="bold" textLength="21" lengthAdjust="spacingAndGlyphs" stroke="#000" stroke-width="0.25">v-δ7</text></g>
<g><text x="8.3" y="237.6" font-size="20" font-weight="bold">d</text>
<polyline points="60.9,396.5 62.1,395.4 63.4,394.2 64.7,393.1 65.9,391.9 67.2,390.8 68.4,389.7 69.7,388.5 70.9,387.4 72.2,386.3 73.4,385.2 74.7,384.1 75.9,382.9 77.2,381.8 78.4,380.7 79.7,379.6 80.9,378.5 82.2,377.4 83.4,376.3 84.7,375.2 85.9,374.1 87.2,373 88.4,371.9 89.7,370.8 90.9,369.7 92.2,368.6 93.4,367.5 94.7,366.5 95.9,365.4 97.2,364.3 98.4,363.2 99.7,362.1 100.9,361.1 102.2,360 103.4,358.9 104.7,357.9 105.9,356.8 107.2,355.8 108.4,354.7 109.7,353.6 110.9,352.6 112.2,351.5 113.4,350.5 114.7,349.5 115.9,348.4 117.2,347.4 118.4,346.3 119.7,345.3 120.9,344.3 122.2,343.2 123.4,342.2 124.7,341.2 125.9,340.1 127.2,339.1 128.4,338.1 129.7,337.1 130.9,336.1 132.2,335 133.4,334 134.7,333 135.9,332 137.2,331 138.4,330 139.7,329 140.9,328 142.2,327 143.4,326 144.7,325 145.9,324 147.2,323 148.4,322.1 149.7,321.1 150.9,320.1 152.2,319.1 153.4,318.1 154.7,317.2 155.9,316.2 157.2,315.2 158.4,314.3 159.7,313.3 160.9,312.3 162.2,311.4 163.4,310.4 164.7,309.4 165.9,308.5 167.2,307.5 168.4,306.6 169.7,305.6 170.9,304.7 172.2,303.7 173.4,302.8 174.7,301.9 175.9,300.9 177.2,300 178.4,299 179.7,298.1 180.9,297.2 182.2,296.3 183.4,295.3 184.7,294.4 185.9,293.5 187.2,292.6 188.4,291.6 189.7,290.7 190.9,289.8 192.2,288.9 193.4,288 194.7,287.1 195.9,286.2 197.2,285.3 198.4,284.4 199.7,283.5 200.9,282.6 202.2,281.7 203.4,280.8 204.7,279.9 205.9,279 207.2,278.1 208.4,277.2 209.7,276.4 210.9,275.5 212.2,274.6 213.4,273.7 214.7,272.8 215.9,272 217.2,271.1 218.4,270.2 219.7,269.4 220.9,268.5 222.2,267.6 223.4,266.8 224.7,265.9 225.1,265.6" fill="none" stroke="#8a40d0" stroke-width="1.7" stroke-linejoin="round"/>
<polyline points="60,395.8 61.2,394.7 62.5,393.5 63.8,392.4 65,391.3 66.2,390.1 67.5,389 68.8,387.9 70,386.8 71.2,385.6 72.5,384.5 73.8,383.4 75,382.3 76.2,381.2 77.5,380.1 78.8,379 80,377.9 81.2,376.8 82.5,375.7 83.8,374.6 85,373.5 86.2,372.4 87.5,371.3 88.8,370.2 90,369.2 91.2,368.1 92.5,367 93.8,365.9 95,364.8 96.2,363.8 97.5,362.7 98.8,361.6 100,360.6 101.2,359.5 102.5,358.5 103.8,357.4 105,356.3 106.2,355.3 107.5,354.2 108.8,353.2 110,352.1 111.2,351.1 112.5,350.1 113.8,349 115,348 116.2,346.9 117.5,345.9 118.8,344.9 120,343.9 121.2,342.8 122.5,341.8 123.8,340.8 125,339.8 126.2,338.8 127.5,337.7 128.8,336.7 130,335.7 131.2,334.7 132.5,333.7 133.8,332.7 135,331.7 136.2,330.7 137.5,329.7 138.8,328.7 140,327.7 141.2,326.8 142.5,325.8 143.8,324.8 145,323.8 146.2,322.8 147.5,321.8 148.8,320.9 150,319.9 151.2,318.9 152.5,318 153.8,317 155,316 156.2,315.1 157.5,314.1 158.8,313.2 160,312.2 161.2,311.2 162.5,310.3 163.8,309.4 165,308.4 166.2,307.5 167.5,306.5 168.8,305.6 170,304.6 171.2,303.7 172.5,302.8 173.8,301.9 175,300.9 176.2,300 177.5,299.1 178.8,298.2 180,297.2 181.2,296.3 182.5,295.4 183.8,294.5 185,293.6 186.2,292.7 187.5,291.8 188.8,290.9 190,290 191.2,289.1 192.5,288.2 193.8,287.3 195,286.4 196.2,285.5 197.5,284.6 198.8,283.7 200,282.9 201.2,282 202.5,281.1 203.8,280.2 205,279.3 206.2,278.5 207.5,277.6 208.8,276.7 210,275.9 211.2,275 212.5,274.2 213.8,273.3 215,272.4 216.2,271.6 217.5,270.7 218.8,269.9 220,269 221.2,268.2 222.5,267.3 223.8,266.5 225,265.7 225.1,265.6" fill="none" stroke="#3c2484" stroke-width="1.3" stroke-linejoin="round"/>
<polyline points="59.1,395 60.4,393.9 61.6,392.7 62.9,391.6 64.1,390.5 65.3,389.4 66.6,388.2 67.8,387.1 69.1,386 70.3,384.9 71.6,383.8 72.8,382.7 74.1,381.6 75.3,380.5 76.6,379.4 77.8,378.3 79.1,377.2 80.3,376.1 81.6,375 82.8,373.9 84.1,372.8 85.3,371.7 86.6,370.7 87.8,369.6 89.1,368.5 90.3,367.4 91.6,366.4 92.8,365.3 94.1,364.2 95.3,363.2 96.6,362.1 97.8,361 99.1,360 100.3,358.9 101.6,357.9 102.8,356.8 104.1,355.8 105.3,354.7 106.6,353.7 107.8,352.6 109.1,351.6 110.3,350.6 111.6,349.5 112.8,348.5 114.1,347.5 115.3,346.4 116.6,345.4 117.8,344.4 119.1,343.4 120.3,342.3 121.6,341.3 122.8,340.3 124.1,339.3 125.3,338.3 126.6,337.3 127.8,336.3 129.1,335.3 130.3,334.3 131.6,333.3 132.8,332.3 134.1,331.3 135.3,330.3 136.6,329.3 137.8,328.4 139.1,327.4 140.3,326.4 141.6,325.4 142.8,324.4 144.1,323.5 145.3,322.5 146.6,321.5 147.8,320.6 149.1,319.6 150.3,318.6 151.6,317.7 152.8,316.7 154.1,315.8 155.3,314.8 156.6,313.9 157.8,312.9 159.1,312 160.3,311 161.6,310.1 162.8,309.2 164.1,308.2 165.3,307.3 166.6,306.4 167.8,305.5 169.1,304.5 170.3,303.6 171.6,302.7 172.8,301.8 174.1,300.9 175.3,299.9 176.6,299 177.8,298.1 179.1,297.2 180.3,296.3 181.6,295.4 182.8,294.5 184.1,293.6 185.3,292.7 186.6,291.8 187.8,291 189.1,290.1 190.3,289.2 191.6,288.3 192.8,287.4 194.1,286.6 195.3,285.7 196.6,284.8 197.8,283.9 199.1,283.1 200.3,282.2 201.6,281.3 202.8,280.5 204.1,279.6 205.3,278.8 206.6,277.9 207.8,277.1 209.1,276.2 210.3,275.4 211.6,274.5 212.8,273.7 214.1,272.9 215.3,272 216.6,271.2 217.8,270.4 219.1,269.5 220.3,268.7 221.6,267.9 222.8,267.1 224.1,266.3 225.1,265.6" fill="none" stroke="#2cc890" stroke-width="1.4" stroke-linejoin="round"/>
<polyline points="59.1,394.1 60.4,393 61.6,391.8 62.9,390.7 64.1,389.6 65.3,388.5 66.6,387.3 67.8,386.2 69.1,385.1 70.3,384 71.6,382.9 72.8,381.8 74.1,380.7 75.3,379.6 76.6,378.5 77.8,377.4 79.1,376.3 80.3,375.2 81.6,374.1 82.8,373 84.1,371.9 85.3,370.8 86.6,369.8 87.8,368.7 89.1,367.6 90.3,366.5 91.6,365.5 92.8,364.4 94.1,363.3 95.3,362.3 96.6,361.2 97.8,360.1 99.1,359.1 100.3,358 101.6,357 102.8,355.9 104.1,354.9 105.3,353.8 106.6,352.8 107.8,351.8 109.1,350.7 110.3,349.7 111.6,348.6 112.8,347.6 114.1,346.6 115.3,345.6 116.6,344.5 117.8,343.5 119.1,342.5 120.3,341.5 121.6,340.5 122.8,339.5 124.1,338.5 125.3,337.5 126.6,336.5 127.8,335.5 129.1,334.5 130.3,333.5 131.6,332.5 132.8,331.5 134.1,330.5 135.3,329.5 136.6,328.5 137.8,327.5 139.1,326.6 140.3,325.6 141.6,324.6 142.8,323.7 144.1,322.7 145.3,321.7 146.6,320.8 147.8,319.8 149.1,318.8 150.3,317.9 151.6,316.9 152.8,316 154.1,315 155.3,314.1 156.6,313.2 157.8,312.2 159.1,311.3 160.3,310.4 161.6,309.4 162.8,308.5 164.1,307.6 165.3,306.6 166.6,305.7 167.8,304.8 169.1,303.9 170.3,303 171.6,302.1 172.8,301.2 174.1,300.3 175.3,299.4 176.6,298.5 177.8,297.6 179.1,296.7 180.3,295.8 181.6,294.9 182.8,294 184.1,293.1 185.3,292.2 186.6,291.4 187.8,290.5 189.1,289.6 190.3,288.7 191.6,287.9 192.8,287 194.1,286.1 195.3,285.3 196.6,284.4 197.8,283.6 199.1,282.7 200.3,281.9 201.6,281 202.8,280.2 204.1,279.3 205.3,278.5 206.6,277.7 207.8,276.8 209.1,276 210.3,275.2 211.6,274.3 212.8,273.5 214.1,272.7 215.3,271.9 216.6,271.1 217.8,270.3 219.1,269.4 220.3,268.6 221.6,267.8 222.8,267 224.1,266.2 225.1,265.6" fill="none" stroke="#ff8c1a" stroke-width="1.3" stroke-linejoin="round"/>
<rect x="58.9" y="240.1" width="183.8" height="155.4" fill="none" stroke="#000" stroke-width="2"/>
<line x1="55.9" y1="395.5" x2="58.9" y2="395.5" stroke="#000" stroke-width="1.3"/>
<line x1="56.9" y1="378.2" x2="58.9" y2="378.2" stroke="#000" stroke-width="1"/>
<text x="54.3" y="399" font-size="10" font-weight="bold" text-anchor="end" textLength="15" lengthAdjust="spacingAndGlyphs">0.0</text>
<line x1="55.9" y1="361" x2="58.9" y2="361" stroke="#000" stroke-width="1.3"/>
<line x1="56.9" y1="343.8" x2="58.9" y2="343.8" stroke="#000" stroke-width="1"/>
<text x="54.3" y="364.5" font-size="10" font-weight="bold" text-anchor="end" textLength="15" lengthAdjust="spacingAndGlyphs">0.1</text>
<line x1="55.9" y1="326.5" x2="58.9" y2="326.5" stroke="#000" stroke-width="1.3"/>
<line x1="56.9" y1="309.2" x2="58.9" y2="309.2" stroke="#000" stroke-width="1"/>
<text x="54.3" y="330" font-size="10" font-weight="bold" text-anchor="end" textLength="15" lengthAdjust="spacingAndGlyphs">0.2</text>
<line x1="55.9" y1="292" x2="58.9" y2="292" stroke="#000" stroke-width="1.3"/>
<line x1="56.9" y1="274.8" x2="58.9" y2="274.8" stroke="#000" stroke-width="1"/>
<text x="54.3" y="295.5" font-size="10" font-weight="bold" text-anchor="end" textLength="15" lengthAdjust="spacingAndGlyphs">0.3</text>
<line x1="55.9" y1="257.5" x2="58.9" y2="257.5" stroke="#000" stroke-width="1.3"/>
<line x1="56.9" y1="240.2" x2="58.9" y2="240.2" stroke="#000" stroke-width="1"/>
<text x="54.3" y="261" font-size="10" font-weight="bold" text-anchor="end" textLength="15" lengthAdjust="spacingAndGlyphs">0.4</text>
<line x1="58.9" y1="395.5" x2="58.9" y2="398.5" stroke="#000" stroke-width="1.3"/>
<line x1="75.6" y1="395.5" x2="75.6" y2="397.5" stroke="#000" stroke-width="1"/>
<text x="58.9" y="409.9" font-size="10" font-weight="bold" text-anchor="middle" textLength="5.6" lengthAdjust="spacingAndGlyphs">0</text>
<line x1="92.2" y1="395.5" x2="92.2" y2="398.5" stroke="#000" stroke-width="1.3"/>
<line x1="109" y1="395.5" x2="109" y2="397.5" stroke="#000" stroke-width="1"/>
<text x="92.2" y="409.9" font-size="10" font-weight="bold" text-anchor="middle" textLength="11.2" lengthAdjust="spacingAndGlyphs">10</text>
<line x1="125.6" y1="395.5" x2="125.6" y2="398.5" stroke="#000" stroke-width="1.3"/>
<line x1="142.3" y1="395.5" x2="142.3" y2="397.5" stroke="#000" stroke-width="1"/>
<text x="125.6" y="409.9" font-size="10" font-weight="bold" text-anchor="middle" textLength="11.2" lengthAdjust="spacingAndGlyphs">20</text>
<line x1="159" y1="395.5" x2="159" y2="398.5" stroke="#000" stroke-width="1.3"/>
<line x1="175.7" y1="395.5" x2="175.7" y2="397.5" stroke="#000" stroke-width="1"/>
<text x="159" y="409.9" font-size="10" font-weight="bold" text-anchor="middle" textLength="11.2" lengthAdjust="spacingAndGlyphs">30</text>
<line x1="192.3" y1="395.5" x2="192.3" y2="398.5" stroke="#000" stroke-width="1.3"/>
<line x1="209" y1="395.5" x2="209" y2="397.5" stroke="#000" stroke-width="1"/>
<text x="192.3" y="409.9" font-size="10" font-weight="bold" text-anchor="middle" textLength="11.2" lengthAdjust="spacingAndGlyphs">40</text>
<line x1="225.7" y1="395.5" x2="225.7" y2="398.5" stroke="#000" stroke-width="1.3"/>
<line x1="242.3" y1="395.5" x2="242.3" y2="397.5" stroke="#000" stroke-width="1"/>
<text x="225.7" y="409.9" font-size="10" font-weight="bold" text-anchor="middle" textLength="11.2" lengthAdjust="spacingAndGlyphs">50</text>
<text x="34.6" y="357.4" font-size="13" font-weight="bold" textLength="79" lengthAdjust="spacingAndGlyphs" transform="rotate(-90 34.6 357.4)">Stress (MPa)</text>
<text x="121.3" y="430" font-size="13" font-weight="bold" textLength="58.5" lengthAdjust="spacingAndGlyphs">Strain (%)</text>
<line x1="72.3" y1="258.2" x2="90.9" y2="258.2" stroke="#1cd09a" stroke-width="1.8"/>
<text x="92.8" y="261.5" font-size="10" font-weight="bold" textLength="59.3" lengthAdjust="spacingAndGlyphs">First loading</text>
<line x1="72.3" y1="285" x2="90.9" y2="285" stroke="#ff8000" stroke-width="1.8"/>
<text x="92.8" y="288.3" font-size="10" font-weight="bold" textLength="25.5" lengthAdjust="spacingAndGlyphs">2 min</text>
<line x1="72.3" y1="298" x2="90.9" y2="298" stroke="#e080ff" stroke-width="1.8"/>
<text x="92.8" y="301.3" font-size="10" font-weight="bold" textLength="25.5" lengthAdjust="spacingAndGlyphs">5 min</text>
<line x1="72.3" y1="311" x2="90.9" y2="311" stroke="#3c2080" stroke-width="1.8"/>
<text x="92.8" y="314.3" font-size="10" font-weight="bold" textLength="31" lengthAdjust="spacingAndGlyphs">10 min</text>
<text x="73" y="274.2" font-size="10" font-weight="bold" textLength="58.5" lengthAdjust="spacingAndGlyphs">Waiting time</text></g>
<g><text x="9.5" y="447.5" font-size="20" font-weight="bold">g</text>
<polyline points="58.8,538.4 60,538 61.3,537.6 62.5,537.2 63.8,536.8 65,536.5 66.3,536.1 67.5,535.8 68.8,535.5 70,535.2 71.3,534.9 72.5,534.7 73.8,534.4 75,534.2 76.3,533.9 77.5,533.7 78.8,533.5 80,533.3 81.3,533.1 82.5,532.9 83.8,532.7 85,532.6 86.3,532.4 87.5,532.2 88.8,532.1 90,531.9 91.3,531.8 92.5,531.6 93.8,531.5 95,531.4 96.3,531.2 97.5,531.1 98.8,531 100,530.9 101.3,530.8 102.5,530.7 103.8,530.6 105,530.5 106.3,530.5 107.5,530.4 108.8,530.3 110,530.2 111.3,530.2 112.5,530.1 113.8,530 115,530 116.3,530 117.5,529.9 118.8,529.9 120,529.8 121.3,529.8 122.5,529.7 123.8,529.7 125,529.7 126.3,529.6 127.5,529.6 128.8,529.6 130.1,529.5 131.3,529.5 132.6,529.5 133.8,529.5 135.1,529.4 136.3,529.4 137.6,529.4 138.8,529.4 140.1,529.4 141.3,529.4 142.6,529.4 143.8,529.4 145.1,529.4 146.3,529.4 147.6,529.3 148.8,529.3 150.1,529.3 151.3,529.3 152.6,529.3 153.8,529.3 155.1,529.3 156.3,529.3 157.6,529.3 158.8,529.3 160.1,529.3 161.3,529.3 162.6,529.3 163.8,529.3 165.1,529.3 166.3,529.3 167.6,529.3 168.8,529.3 170.1,529.3 171.3,529.3 172.6,529.4 173.8,529.4 175.1,529.4 176.3,529.4 177.6,529.4 178.8,529.5 180.1,529.5 181.3,529.5 182.6,529.6 183.8,529.6 185.1,529.6 186.3,529.6 187.6,529.7 188.8,529.7 190.1,529.7 191.3,529.8 192.6,529.8 193.8,529.8 195.1,529.8 196.3,529.8 197.6,529.9 198.8,529.9 200.1,529.9 201.3,529.9 202.6,529.9 203.8,530 205.1,530 206.3,530 207.6,530 208.8,530.1 210.1,530.1 211.3,530.1 212.6,530.1 213.8,530.1 215.1,530.2 216.3,530.2 217.6,530.2 218.8,530.3 220.1,530.3 221.3,530.3 222.6,530.4 223.8,530.4 225.1,530.5 226.3,530.6 227.6,530.7 228.8,530.7 230.1,530.8 231.3,530.9 232.6,531 233.8,531 235.1,531.1 236.3,531.2 237.6,531.2 238.8,531.3 240.1,531.3 241.3,531.3 242.6,531.4 243.8,531.4 245.1,531.4 246.3,531.4 247.6,531.5 248.8,531.5 250.1,531.5 250.7,531.5" fill="none" stroke="#e6a4f2" stroke-width="2.3" stroke-linejoin="round"/>
<polyline points="58.8,536.3 60,536 61.3,535.6 62.5,535.3 63.8,534.9 65,534.6 66.3,534.3 67.5,534 68.8,533.7 70,533.4 71.3,533.1 72.5,532.8 73.8,532.5 75,532.2 76.3,531.9 77.5,531.7 78.8,531.4 80,531.2 81.3,530.9 82.5,530.7 83.8,530.5 85,530.3 86.3,530.1 87.5,529.8 88.8,529.6 90,529.4 91.3,529.3 92.5,529.1 93.8,529 95,528.8 96.3,528.7 97.5,528.7 98.8,528.6 100,528.5 101.3,528.5 102.5,528.4 103.8,528.3 105,528.3 106.3,528.2 107.5,528.2 108.8,528.2 110,528.1 111.3,528.1 112.5,528.1 113.8,528 115,528 116.3,528 117.5,528 118.8,527.9 120,527.9 121.3,527.9 122.5,527.9 123.8,527.9 125,527.8 126.3,527.8 127.5,527.8 128.8,527.8 130.1,527.8 131.3,527.8 132.6,527.8 133.8,527.8 135.1,527.7 136.3,527.7 137.6,527.7 138.8,527.7 140.1,527.7 141.3,527.7 142.6,527.7 143.8,527.6 145.1,527.6 146.3,527.6 147.6,527.6 148.8,527.6 150.1,527.6 151.3,527.6 152.6,527.5 153.8,527.5 155.1,527.5 156.3,527.5 157.6,527.5 158.8,527.5 160.1,527.5 161.3,527.4 162.6,527.4 163.8,527.4 165.1,527.4 166.3,527.4 167.6,527.4 168.8,527.4 170.1,527.3 171.3,527.3 172.6,527.3 173.8,527.3 175.1,527.3 176.3,527.3 177.6,527.2 178.8,527.2 180.1,527.2 181.3,527.2 182.6,527.2 183.8,527.1 185.1,527.1 186.3,527.1 187.6,527.1 188.8,527.1 190.1,527.1 191.3,527 192.6,527 193.8,527 195.1,527 196.3,527 197.6,526.9 198.8,526.9 200.1,526.9 201.3,526.8 202.6,526.8 203.8,526.8 205.1,526.7 206.3,526.7 207.6,526.7 208.8,526.6 210.1,526.6 211.3,526.6 212.6,526.6 213.8,526.6 215.1,526.5 216.3,526.5 217.6,526.5 218.8,526.5 220.1,526.5 221.3,526.5 222.6,526.5 223.8,526.6 225.1,526.6 226.3,526.7 227.6,526.7 228.8,526.8 230.1,526.9 231.3,526.9 232.6,527 233.8,527 235.1,527.1 236.3,527.1 237.6,527.2 238.8,527.2 240.1,527.2 241.3,527.2 242.6,527.2 243.8,527.2 245.1,527.2 246.3,527.1 247.6,527.1 248.8,527.1 250.1,527 250.7,527" fill="none" stroke="#6a74c6" stroke-width="2.3" stroke-linejoin="round"/>
<polyline points="58.8,551.2 60,550.3 61.3,549.6 62.5,548.8 63.8,548.2 65,547.6 66.3,547.1 67.5,546.6 68.8,546.1 70,545.7 71.3,545.4 72.5,545 73.8,544.7 75,544.4 76.3,544.1 77.5,543.9 78.8,543.7 80,543.5 81.3,543.3 82.5,543.1 83.8,542.9 85,542.8 86.3,542.6 87.5,542.5 88.8,542.3 90,542.2 91.3,542.1 92.5,541.9 93.8,541.8 95,541.7 96.3,541.6 97.5,541.4 98.8,541.3 100,541.2 101.3,541.1 102.5,541 103.8,540.8 105,540.7 106.3,540.6 107.5,540.5 108.8,540.4 110,540.2 111.3,540.1 112.5,540 113.8,539.8 115,539.7 116.3,539.5 117.5,539.3 118.8,539.1 120,538.9 121.3,538.7 122.5,538.5 123.8,538.3 125,538.1 126.3,538 127.5,537.8 128.8,537.6 130.1,537.4 131.3,537.2 132.6,537 133.8,536.9 135.1,536.7 136.3,536.5 137.6,536.4 138.8,536.2 140.1,536.1 141.3,536 142.6,535.8 143.8,535.7 145.1,535.5 146.3,535.4 147.6,535.3 148.8,535.1 150.1,535 151.3,534.9 152.6,534.9 153.8,534.8 155.1,534.8 156.3,534.8 157.6,534.8 158.8,534.8 160.1,534.8 161.3,534.8 162.6,534.8 163.8,534.8 165.1,534.8 166.3,534.9 167.6,534.9 168.8,534.9 170.1,534.9 171.3,534.9 172.6,534.9 173.8,534.9 175.1,534.9 176.3,534.9 177.6,534.9 178.8,534.9 180.1,534.9 181.3,534.8 182.6,534.8 183.8,534.8 185.1,534.8 186.3,534.8 187.6,534.7 188.8,534.7 190.1,534.7 191.3,534.6 192.6,534.6 193.8,534.6 195.1,534.6 196.3,534.5 197.6,534.5 198.8,534.5 200.1,534.5 201.3,534.4 202.6,534.4 203.8,534.4 205.1,534.4 206.3,534.3 207.6,534.3 208.8,534.3 210.1,534.3 211.3,534.2 212.6,534.2 213.8,534.2 215.1,534.1 216.3,534.1 217.6,534.1 218.8,534.1 220.1,534 221.3,534 222.6,534 223.8,533.9 225.1,533.9 226.3,533.9 227.6,533.8 228.8,533.8 230.1,533.8 231.3,533.7 232.6,533.7 233.8,533.7 235.1,533.6 236.3,533.6 237.6,533.6 238.8,533.5 240.1,533.5 241.3,533.5 242.6,533.4 243.8,533.4 245.1,533.4 246.3,533.3 247.6,533.3 248.8,533.3 250.1,533.2 250.7,533.2" fill="none" stroke="#0b5e50" stroke-width="2.3" stroke-linejoin="round"/>
<polyline points="58.8,544.3 60,543.9 61.3,543.4 62.5,543 63.8,542.6 65,542.2 66.3,541.8 67.5,541.5 68.8,541.1 70,540.8 71.3,540.5 72.5,540.2 73.8,539.9 75,539.6 76.3,539.3 77.5,539.1 78.8,538.8 80,538.6 81.3,538.3 82.5,538.1 83.8,537.9 85,537.6 86.3,537.4 87.5,537.2 88.8,537 90,536.8 91.3,536.6 92.5,536.5 93.8,536.3 95,536.1 96.3,535.9 97.5,535.8 98.8,535.6 100,535.4 101.3,535.2 102.5,535 103.8,534.8 105,534.7 106.3,534.5 107.5,534.3 108.8,534.1 110,533.9 111.3,533.7 112.5,533.5 113.8,533.3 115,533 116.3,532.8 117.5,532.5 118.8,532.2 120,531.9 121.3,531.6 122.5,531.3 123.8,531 125,530.8 126.3,530.5 127.5,530.3 128.8,530.1 130.1,529.9 131.3,529.7 132.6,529.5 133.8,529.3 135.1,529.1 136.3,528.9 137.6,528.8 138.8,528.7 140.1,528.5 141.3,528.4 142.6,528.3 143.8,528.2 145.1,528.1 146.3,528 147.6,527.9 148.8,527.9 150.1,527.8 151.3,527.7 152.6,527.6 153.8,527.6 155.1,527.5 156.3,527.4 157.6,527.4 158.8,527.3 160.1,527.2 161.3,527.2 162.6,527.1 163.8,527.1 165.1,527 166.3,527 167.6,526.9 168.8,526.9 170.1,526.8 171.3,526.8 172.6,526.7 173.8,526.7 175.1,526.6 176.3,526.6 177.6,526.5 178.8,526.5 180.1,526.4 181.3,526.4 182.6,526.3 183.8,526.3 185.1,526.2 186.3,526.2 187.6,526.1 188.8,526.1 190.1,526 191.3,526 192.6,525.9 193.8,525.9 195.1,525.8 196.3,525.8 197.6,525.7 198.8,525.7 200.1,525.6 201.3,525.6 202.6,525.5 203.8,525.5 205.1,525.4 206.3,525.4 207.6,525.3 208.8,525.2 210.1,525.2 211.3,525.1 212.6,525.1 213.8,525 215.1,524.9 216.3,524.9 217.6,524.8 218.8,524.7 220.1,524.7 221.3,524.6 222.6,524.5 223.8,524.5 225.1,524.4 226.3,524.4 227.6,524.3 228.8,524.2 230.1,524.2 231.3,524.1 232.6,524.1 233.8,524.1 235.1,524 236.3,524 237.6,523.9 238.8,523.9 240.1,523.8 241.3,523.8 242.6,523.7 243.8,523.7 245.1,523.7 246.3,523.6 247.6,523.6 248.8,523.6 250.1,523.5 250.7,523.5" fill="none" stroke="#00d28c" stroke-width="2.3" stroke-linejoin="round"/>
<rect x="57.9" y="443.7" width="193.3" height="160" fill="none" stroke="#000" stroke-width="2"/>
<line x1="54.9" y1="443.7" x2="57.9" y2="443.7" stroke="#000" stroke-width="1.3"/>
<line x1="55.9" y1="470.4" x2="57.9" y2="470.4" stroke="#000" stroke-width="1"/>
<text x="51.9" y="447.4" font-size="10.5" font-weight="bold" text-anchor="end" textLength="18" lengthAdjust="spacingAndGlyphs">100</text>
<line x1="54.9" y1="497" x2="57.9" y2="497" stroke="#000" stroke-width="1.3"/>
<line x1="55.9" y1="523.7" x2="57.9" y2="523.7" stroke="#000" stroke-width="1"/>
<text x="51.9" y="500.7" font-size="10.5" font-weight="bold" text-anchor="end" textLength="12" lengthAdjust="spacingAndGlyphs">95</text>
<line x1="54.9" y1="550.4" x2="57.9" y2="550.4" stroke="#000" stroke-width="1.3"/>
<line x1="55.9" y1="577" x2="57.9" y2="577" stroke="#000" stroke-width="1"/>
<text x="51.9" y="554.1" font-size="10.5" font-weight="bold" text-anchor="end" textLength="12" lengthAdjust="spacingAndGlyphs">90</text>
<line x1="54.9" y1="603.7" x2="57.9" y2="603.7" stroke="#000" stroke-width="1.3"/>
<text x="51.9" y="607.4" font-size="10.5" font-weight="bold" text-anchor="end" textLength="12" lengthAdjust="spacingAndGlyphs">85</text>
<line x1="67.8" y1="603.7" x2="67.8" y2="606.7" stroke="#000" stroke-width="1.3"/>
<line x1="91.8" y1="603.7" x2="91.8" y2="605.7" stroke="#000" stroke-width="1"/>
<text x="67.8" y="618.1" font-size="10" font-weight="bold" text-anchor="middle" textLength="17.5" lengthAdjust="spacingAndGlyphs">400</text>
<line x1="115.9" y1="603.7" x2="115.9" y2="606.7" stroke="#000" stroke-width="1.3"/>
<line x1="140" y1="603.7" x2="140" y2="605.7" stroke="#000" stroke-width="1"/>
<text x="115.9" y="618.1" font-size="10" font-weight="bold" text-anchor="middle" textLength="17.5" lengthAdjust="spacingAndGlyphs">500</text>
<line x1="164" y1="603.7" x2="164" y2="606.7" stroke="#000" stroke-width="1.3"/>
<line x1="188.1" y1="603.7" x2="188.1" y2="605.7" stroke="#000" stroke-width="1"/>
<text x="164" y="618.1" font-size="10" font-weight="bold" text-anchor="middle" textLength="17.5" lengthAdjust="spacingAndGlyphs">600</text>
<line x1="212.1" y1="603.7" x2="212.1" y2="606.7" stroke="#000" stroke-width="1.3"/>
<line x1="236.2" y1="603.7" x2="236.2" y2="605.7" stroke="#000" stroke-width="1"/>
<text x="212.1" y="618.1" font-size="10" font-weight="bold" text-anchor="middle" textLength="17.5" lengthAdjust="spacingAndGlyphs">700</text>
<text x="23" y="576.2" font-size="13" font-weight="bold" textLength="117.6" lengthAdjust="spacingAndGlyphs" transform="rotate(-90 23 576.2)">Transmittance (%)</text>
<text x="101" y="638.6" font-size="13" font-weight="bold" textLength="106" lengthAdjust="spacingAndGlyphs">Wavelength (nm)</text>
<line x1="181" y1="461.8" x2="201" y2="461.8" stroke="#e6a4f2" stroke-width="2"/>
<text x="202.6" y="465.1" font-size="10" textLength="29.4" lengthAdjust="spacingAndGlyphs" stroke="#000" stroke-width="0.5">PDMS</text>
<line x1="181" y1="477.8" x2="201" y2="477.8" stroke="#00d28c" stroke-width="2"/>
<text x="202.3" y="481" font-size="12.6" font-family="'Liberation Serif', 'Times New Roman', serif" font-weight="bold" textLength="25.8" lengthAdjust="spacingAndGlyphs" stroke="#000" stroke-width="0.25">v–δ1</text>
<line x1="181" y1="493.7" x2="201" y2="493.7" stroke="#0b5e50" stroke-width="2"/>
<text x="202.3" y="496.9" font-size="12.6" font-family="'Liberation Serif', 'Times New Roman', serif" font-weight="bold" textLength="25.8" lengthAdjust="spacingAndGlyphs" stroke="#000" stroke-width="0.25">v–δ4</text>
<line x1="181" y1="509.7" x2="201" y2="509.7" stroke="#6a74c6" stroke-width="2"/>
<text x="202.3" y="512.9" font-size="12.6" font-family="'Liberation Serif', 'Times New Roman', serif" font-weight="bold" textLength="25.8" lengthAdjust="spacingAndGlyphs" stroke="#000" stroke-width="0.25">v–δ7</text></g>
<g><text x="276.2" y="241.7" font-size="20" font-weight="bold">e</text>
<rect x="292" y="240.2" width="53" height="172.5" fill="url(#ge1)"/>
<g clip-path="url(#ce1)">
<g filter="url(#b1)">
<polygon points="320.2,239 328.4,239 327.6,251 321.6,251" fill="#dcd9cc"/>
<polygon points="315.2,250 313.2,253 315.4,264.5 304.6,264.5 304.6,279.5 313.6,279.5 314.6,281.4 313.6,283.3 304.6,283.3 304.6,297.9 313.6,297.9 314.6,299.8 313.6,301.7 304.6,301.7 304.6,317.1 313.6,317.1 314.6,319 313.6,320.9 304.6,320.9 304.6,335.6 313.6,335.6 314.6,337.5 313.6,339.4 304.6,339.4 305.7,354.1 315,354.1 316,356 315,357.9 305.9,357.9 307,372.1 316.7,372.1 317.7,374 316.7,375.9 307.3,375.9 308.4,390.1 318.3,390.1 319.3,392 318.3,393.9 308.6,393.9 309.9,404 311.1,407 333.9,404.2 333.6,400 333,390 332.4,380 331.8,370 331.2,360 330.6,350 329.9,340 329.3,330 329.2,320 329.7,310 330.1,300 330.6,290 331,280 331.5,270 331.9,260 332.5,256 331,250" fill="#d8d5c8"/>
<polyline points="326.5,252 325,300 324.4,340 326,380 328,404" fill="none" stroke="#e2dfd2" stroke-width="3.4"/>
<polyline points="320,266 319.2,300 319,340 320.4,380 322,402" fill="none" stroke="#e8e5d8" stroke-width="0.9"/>
<rect x="306.2" y="266.3" width="8.6" height="11.7" fill="#d0cdc0" stroke="#e6e3d6" stroke-width="0.9"/>
<rect x="306.2" y="284.8" width="8.6" height="11.6" fill="#d0cdc0" stroke="#e6e3d6" stroke-width="0.9"/>
<rect x="306.2" y="303.2" width="8.6" height="12.4" fill="#d0cdc0" stroke="#e6e3d6" stroke-width="0.9"/>
<rect x="306.2" y="322.4" width="8.6" height="11.7" fill="#d0cdc0" stroke="#e6e3d6" stroke-width="0.9"/>
<rect x="306.7" y="340.9" width="8.6" height="11.7" fill="#d0cdc0" stroke="#e6e3d6" stroke-width="0.9"/>
<rect x="308.1" y="359.4" width="8.6" height="11.2" fill="#d0cdc0" stroke="#e6e3d6" stroke-width="0.9"/>
<rect x="309.4" y="377.4" width="8.6" height="11.2" fill="#d0cdc0" stroke="#e6e3d6" stroke-width="0.9"/>
<rect x="310.6" y="395.4" width="8.6" height="6.2" fill="#d0cdc0" stroke="#e6e3d6" stroke-width="0.9"/>
</g></g>
<rect x="420.2" y="240.2" width="116.8" height="172.3" fill="#4e4d46"/>
<g clip-path="url(#ce2)">
<rect x="420" y="240" width="117" height="173" fill="url(#ge2)"/>
<g filter="url(#b1)">
<polygon points="441.6,239 449,239 448.4,252 443,252" fill="#d2cfc6"/>
<polygon points="452.3,268 452.4,270.6 452.6,273.2 452.8,275.8 453.2,278.3 453.7,280.9 454.2,283.4 454.9,286 455.5,288.5 456.3,291 457,293.4 457.8,295.9 458.7,298.4 459.5,300.8 460.5,303.2 461.5,305.6 462.6,308 463.7,310.3 464.9,312.6 466.2,314.9 467.5,317.1 468.9,319.3 470.2,321.6 471.6,323.7 473,325.9 474.5,328.1 475.9,330.2 477.5,332.3 479,334.4 480.6,336.5 482.3,338.5 484,340.4 485.7,342.4 487.5,344.3 489.3,346.1 491.2,347.9 493.1,349.7 495,351.4 497,353.1 499.1,354.6 501.3,356.1 503.5,357.4 505.8,358.6 508.2,359.7 510.6,360.7 513,361.6 515.5,362.4 517.9,363.2 520.4,364 522.9,364.7 517.9,381.5 515.5,380.8 513,380.1 510.4,379.4 507.7,378.6 504.9,377.6 507.2,372.4 505.1,370.3 502.1,370.3 500,375.8 497,374.4 494,372.9 491,371.2 488.2,369.4 485.6,367.5 489.6,362.8 488.2,360.1 485.4,359.2 481.4,364.2 479.2,362.2 477,360.3 475,358.3 473,356.4 471.1,354.4 476.2,350.1 475.4,347.3 472.8,346.1 467.8,350.8 465.9,348.6 464.1,346.5 462.3,344.2 460.5,342 458.9,339.7 465,335.9 464.6,333.1 462.2,331.7 456.2,335.9 454.7,333.7 453.2,331.6 451.8,329.4 450.4,327.2 448.9,324.8 455.7,321.2 455.5,318.3 453.2,316.6 446.4,320.5 444.9,317.9 443.5,315.1 442.3,312.4 441.1,309.7 440,307 447.9,304.4 448.1,301.6 446.2,299.6 438.3,302.5 437.4,299.9 436.5,297.4 435.6,294.7 434.8,292 434,289.1 442.6,287.4 443.2,284.5 441.5,282.1 432.8,284.1 432.2,281.1 431.7,277.9 431.3,274.7 431,271.5 430.8,268.1" fill="#c6c3ba"/>
<path d="M443,250C442.3,250.6 439.7,252.5 438.6,253.6C437.5,254.7 436.5,255.8 436.6,256.8C436.7,257.8 439.1,258.5 439.4,259.6C439.7,260.7 438,262.1 438.2,263.6C438.4,265.1 439.3,267.3 440.6,268.5C441.9,269.7 443.9,270.9 446,271C448.1,271.1 451.7,270.5 453,269C454.3,267.5 453.5,263.9 453.6,262C453.7,260.1 454.2,258.8 453.8,257.4C453.4,256 451.7,254.8 451,253.6C450.3,252.4 449.7,250.6 449.4,250 Z" fill="#cbc8bf"/>
<polyline points="447,252 449.6,262 450.1,268 450.2,270.7 450.4,273.4 450.7,276.1 451.1,278.7 451.5,281.3 452.1,283.9 452.7,286.5 453.4,289.1 454.2,291.6 454.9,294.1 455.7,296.6 456.6,299.1 457.5,301.6 458.4,304.1 459.5,306.5 460.6,308.9 461.7,311.3 463,313.7 464.3,316 465.6,318.3 467,320.5 468.4,322.7 469.8,324.9 471.2,327.1 472.6,329.3 474.1,331.5 475.7,333.6 477.3,335.8 478.9,337.8 480.6,339.9 482.3,341.9 484.1,343.8 485.9,345.8 487.8,347.7 489.6,349.5 491.6,351.3 493.6,353.1 495.7,354.8 497.8,356.4 500.1,357.9 502.4,359.3 504.8,360.6 507.3,361.7 509.8,362.7 512.3,363.6 514.8,364.5 517.3,365.3 519.8,366.1 522.3,366.8" fill="none" stroke="#d6d3ca" stroke-width="3"/>
<polyline points="445.8,268 445.9,270.9 446.1,273.8 446.4,276.6 446.8,279.4 447.3,282.2 447.9,284.9 448.6,287.6 449.3,290.2 450,292.8 450.8,295.4 451.7,298 452.5,300.5 453.5,303.1 454.5,305.7 455.5,308.2 456.7,310.8 457.9,313.3 459.2,315.7 460.6,318.1 461.9,320.5 463.3,322.8 464.7,325 466.1,327.2 467.6,329.5 469.1,331.7 470.6,334 472.2,336.2 473.9,338.4 475.6,340.5 477.3,342.6 479.1,344.7 480.9,346.8 482.8,348.7 484.7,350.7 486.7,352.6 488.7,354.5 490.8,356.4 493,358.2 495.3,359.9 497.8,361.6 500.3,363.1 503,364.4 505.6,365.6 508.2,366.7 510.8,367.7 513.4,368.6 516,369.4 518.5,370.2 521,370.9" fill="none" stroke="#efece2" stroke-width="1"/>
<polyline points="451.8,268 451.9,270.6 452.1,273.2 452.3,275.8 452.7,278.4 453.2,281 453.8,283.5 454.4,286.1 455.1,288.6 455.8,291.1 456.5,293.6 457.4,296.1 458.2,298.5 459.1,301 460,303.4 461,305.8 462.1,308.2 463.3,310.6 464.5,312.9 465.8,315.1 467.1,317.4 468.4,319.6 469.8,321.8 471.2,324 472.6,326.2 474.1,328.4 475.5,330.5 477.1,332.6 478.6,334.7 480.2,336.8 481.9,338.8 483.6,340.8 485.3,342.7 487.1,344.6 489,346.5 490.8,348.3 492.7,350.1 494.7,351.8 496.7,353.5 498.8,355 501,356.5 503.3,357.8 505.6,359 508,360.1 510.4,361.1 512.8,362 515.3,362.9 517.8,363.7 520.3,364.4 522.8,365.2" fill="none" stroke="#e6e3da" stroke-width="0.8"/>
<polygon points="442.3,269.9 432.5,270.3 434,281.9 443.4,280.3" fill="#c4c1b6" stroke="#e2dfd2" stroke-width="1"/>
<polygon points="445.1,288.3 436.1,290.6 439.2,300.3 447.8,297.6" fill="#c4c1b6" stroke="#e2dfd2" stroke-width="1"/>
<polygon points="450.4,305 442.2,308.2 446.9,318.1 454.5,314.2" fill="#c4c1b6" stroke="#e2dfd2" stroke-width="1"/>
<polygon points="458.4,321.3 451.2,325.5 456.5,333.6 463.3,329.3" fill="#c4c1b6" stroke="#e2dfd2" stroke-width="1"/>
<polygon points="467.6,335.8 461.3,340.3 467.8,348.4 473.6,343.6" fill="#c4c1b6" stroke="#e2dfd2" stroke-width="1"/>
<polygon points="478.8,349.6 473.5,354.6 481,361.7 485.8,356.6" fill="#c4c1b6" stroke="#e2dfd2" stroke-width="1"/>
<polygon points="492.3,362 488.2,367.4 498.8,373.5 501.6,367.6" fill="#c4c1b6" stroke="#e2dfd2" stroke-width="1"/>
<polygon points="509.4,370.9 507.3,376.8 516.8,379.5 518.5,373.8" fill="#c4c1b6" stroke="#e2dfd2" stroke-width="1"/>
</g></g>
<text x="478.7" y="266.8" font-size="16.6" font-weight="bold" textLength="41.4" lengthAdjust="spacingAndGlyphs" fill="#fff">5 kPa</text>
<rect x="503.4" y="401.6" width="24.1" height="3.5" fill="#fff"/>
<text x="348.2" y="294.2" font-size="16.2" font-weight="bold" textLength="68.4" lengthAdjust="spacingAndGlyphs" stroke="#000" stroke-width="0.3">Pressure</text>
<text x="369.8" y="315.2" font-size="16.2" font-weight="bold" textLength="18.9" lengthAdjust="spacingAndGlyphs" stroke="#000" stroke-width="0.3">on</text>
<text x="366.6" y="369.3" font-size="16.2" font-weight="bold" textLength="20" lengthAdjust="spacingAndGlyphs" stroke="#000" stroke-width="0.3">off</text>
<line x1="358.5" y1="324.4" x2="400" y2="324.4" stroke="#000" stroke-width="2.9"/>
<polygon points="397.4,319.8 406.8,324.4 397.4,329"/>
<line x1="363" y1="343.5" x2="403.4" y2="343.5" stroke="#000" stroke-width="2.9"/>
<polygon points="365.4,338.9 356,343.5 365.4,348.1"/></g>
<g><text x="561" y="241.2" font-size="20" font-weight="bold">f</text>
<text x="587.9" y="267.2" font-size="16.5" font-weight="bold" text-anchor="middle" textLength="10.5" lengthAdjust="spacingAndGlyphs" fill="#4472c4" stroke="#4472c4" stroke-width="0.5">N</text>
<text x="609.8" y="267.2" font-size="16.5" font-weight="bold" text-anchor="middle" textLength="9.6" lengthAdjust="spacingAndGlyphs" fill="#fa0a14" stroke="#fa0a14" stroke-width="0.5">S</text>
<text x="626.7" y="267.2" font-size="16.5" font-weight="bold" text-anchor="middle" textLength="9.6" lengthAdjust="spacingAndGlyphs" fill="#fa0a14" stroke="#fa0a14" stroke-width="0.5">S</text>
<text x="644.7" y="267.2" font-size="16.5" font-weight="bold" text-anchor="middle" textLength="10.5" lengthAdjust="spacingAndGlyphs" fill="#4472c4" stroke="#4472c4" stroke-width="0.5">N</text>
<text x="665.2" y="267.2" font-size="16.5" font-weight="bold" text-anchor="middle" textLength="10.5" lengthAdjust="spacingAndGlyphs" fill="#4472c4" stroke="#4472c4" stroke-width="0.5">N</text>
<text x="682.7" y="267.2" font-size="16.5" font-weight="bold" text-anchor="middle" textLength="9.6" lengthAdjust="spacingAndGlyphs" fill="#fa0a14" stroke="#fa0a14" stroke-width="0.5">S</text>
<text x="702.2" y="267.2" font-size="16.5" font-weight="bold" text-anchor="middle" textLength="9.6" lengthAdjust="spacingAndGlyphs" fill="#fa0a14" stroke="#fa0a14" stroke-width="0.5">S</text>
<text x="721" y="267.2" font-size="16.5" font-weight="bold" text-anchor="middle" textLength="10.5" lengthAdjust="spacingAndGlyphs" fill="#4472c4" stroke="#4472c4" stroke-width="0.5">N</text>
<line x1="609.1" y1="273.2" x2="588.8" y2="273.2" stroke="#000" stroke-width="2.5"/>
<polygon points="591.6,268.9 582.8,273.2 591.6,277.5"/>
<line x1="623.9" y1="273.2" x2="643.9" y2="273.2" stroke="#000" stroke-width="2.5"/>
<polygon points="641.1,268.9 649.9,273.2 641.1,277.5"/>
<line x1="687" y1="273.2" x2="666.7" y2="273.2" stroke="#000" stroke-width="2.5"/>
<polygon points="669.5,268.9 660.7,273.2 669.5,277.5"/>
<line x1="699.9" y1="273.2" x2="719.9" y2="273.2" stroke="#000" stroke-width="2.5"/>
<polygon points="717.1,268.9 725.9,273.2 717.1,277.5"/>
<g filter="url(#b1)"><polygon points="584.4,282.2 650,281.6 726,283 727.6,289.4 650,289.6 584.4,290" fill="url(#gstrip)"/></g>
<path d="M587.9,311 L593.2,319.4 L589.8,319.4 L589.8,345.8 L586,345.8 L586,319.4 L582.6,319.4 Z" fill="url(#gup)"/>
<path d="M588.8,393.8 L594.1,385.4 L590.7,385.4 L590.7,359 L586.9,359 L586.9,385.4 L583.5,385.4 Z" fill="url(#gdn)"/>
<text x="572.6" y="341" font-size="16.4" font-weight="bold" textLength="11.3" lengthAdjust="spacingAndGlyphs" font-style="italic">B</text>
<text x="572.9" y="380.8" font-size="16.4" font-weight="bold" textLength="11.3" lengthAdjust="spacingAndGlyphs" font-style="italic">B</text>
<ellipse cx="664" cy="347.2" rx="54" ry="2.4" fill="#b4b4b4" filter="url(#b2)"/>
<ellipse cx="654" cy="396.6" rx="46" ry="2.2" fill="#c0c0c0" filter="url(#b2)"/>
<g filter="url(#b1)">
<path d="M605.4,316.2C605.6,318.1 605.8,323.9 606.8,327.5C607.8,331.1 609.3,335.1 611.4,337.8C613.5,340.5 616.6,342.6 619.2,343.7C621.8,344.8 624.5,345.1 627,344.7C629.5,344.3 631.8,343.3 633.9,341.3C636,339.3 637.9,335.7 639.9,332.7C641.9,329.7 643.5,325.7 646,323.4C648.5,321.1 651.7,319 654.6,318.9C657.5,318.8 660.8,320.5 663.3,322.5C665.8,324.5 667.3,327.9 669.3,330.9C671.3,333.8 673.1,337.9 675.4,340.2C677.7,342.5 680.5,344 683.2,344.7C685.9,345.4 689.2,345.4 691.8,344.5C694.4,343.6 696.7,341.9 698.7,339.6C700.7,337.3 702.5,334.2 703.9,330.9C705.3,327.6 706.8,321.6 707.4,319.7" fill="none" stroke="#3c3c3c" stroke-width="5.6" stroke-linecap="butt"/>
<path d="M605.6,315.2C605.8,317.1 606,322.9 607,326.5C608,330.1 609.5,334.1 611.6,336.8C613.7,339.5 616.8,341.6 619.4,342.7C622,343.8 624.8,344.1 627.2,343.7C629.7,343.3 632,342.3 634.1,340.3C636.2,338.3 638.1,334.7 640.1,331.7C642.1,328.7 643.8,324.7 646.2,322.4C648.7,320.1 651.9,318 654.8,317.9C657.7,317.8 661,319.5 663.5,321.5C666,323.5 667.5,326.9 669.5,329.9C671.5,332.8 673.3,336.9 675.6,339.2C677.9,341.5 680.7,343 683.4,343.7C686.1,344.4 689.4,344.4 692,343.5C694.6,342.6 696.9,340.9 698.9,338.6C700.9,336.3 702.7,333.2 704.1,329.9C705.5,326.6 707,320.6 707.6,318.7" fill="none" stroke="#858585" stroke-width="2.6" stroke-linecap="butt"/>
</g>
<g filter="url(#b1)">
<path d="M606.2,397.5C606.4,395.1 606.4,387.1 607.4,382.8C608.4,378.5 610.2,374.5 612.3,371.6C614.4,368.7 617.5,366.1 620.1,365.4C622.7,364.7 625.5,365.6 627.8,367.2C630.1,368.8 631.9,372.1 633.9,375C635.9,377.9 637.7,381.9 639.9,384.5C642.1,387.1 644.6,389.4 646.9,390.8C649.2,392.2 651.3,392.8 653.8,392.6C656.2,392.4 659.3,391.4 661.6,389.5C663.9,387.6 665.6,384.1 667.6,381.1C669.6,378.1 671.4,374.1 673.7,371.6C676,369.1 678.8,366.7 681.4,366C684,365.3 686.9,366 689.2,367.6C691.5,369.2 693.7,373.1 695.3,375.9C696.9,378.7 697.8,380.9 698.7,384.5C699.6,388.1 700.4,395.3 700.8,397.5" fill="none" stroke="#3c3c3c" stroke-width="5.6" stroke-linecap="butt"/>
<path d="M606.4,396.5C606.6,394.1 606.6,386.1 607.6,381.8C608.6,377.5 610.4,373.5 612.5,370.6C614.6,367.7 617.7,365.1 620.3,364.4C622.9,363.7 625.7,364.6 628,366.2C630.3,367.8 632.1,371.1 634.1,374C636.1,376.9 637.9,380.9 640.1,383.5C642.3,386.1 644.8,388.4 647.1,389.8C649.4,391.2 651.5,391.8 654,391.6C656.5,391.4 659.5,390.4 661.8,388.5C664.1,386.6 665.8,383.1 667.8,380.1C669.8,377.1 671.6,373.1 673.9,370.6C676.2,368.1 679,365.7 681.6,365C684.2,364.3 687.1,365 689.4,366.6C691.7,368.2 693.9,372.1 695.5,374.9C697.1,377.7 698,379.9 698.9,383.5C699.8,387.1 700.6,394.3 701,396.5" fill="none" stroke="#858585" stroke-width="2.6" stroke-linecap="butt"/>
</g>
<rect x="694.6" y="407.9" width="31.5" height="3.3" fill="#000"/></g>
<g><text x="265.4" y="459.9" font-size="20" font-weight="bold">h</text>
<rect x="257.2" y="475.2" width="117.8" height="110.4" fill="#8aac58"/>
<g clip-path="url(#ch)">
<g filter="url(#b25)">
<rect x="251.2" y="469.2" width="132.1" height="21.2" fill="#8aa2c2"/>
<rect x="251.2" y="469.2" width="18.6" height="19.5" fill="#6880aa"/>
<rect x="268.2" y="469.2" width="11.9" height="17.3" fill="#8497b5"/>
<rect x="280" y="469.2" width="10.2" height="19" fill="#a9a6b4"/>
<rect x="290.2" y="469.2" width="39.8" height="28.8" fill="#a9c2e0"/>
<rect x="308.8" y="486.2" width="10.2" height="14.4" fill="#c9d6e6"/>
<rect x="322.3" y="469.2" width="7.6" height="21.2" fill="#d5e0ee"/>
<rect x="330" y="469.2" width="22.9" height="19" fill="#7f93ad"/>
<rect x="352.8" y="469.2" width="13.5" height="21.2" fill="#6c88a8"/>
<rect x="366.4" y="469.2" width="16.9" height="24.6" fill="#5b8fc6"/>
<ellipse cx="269.9" cy="498.9" rx="16.1" ry="11" fill="#4a6c40"/>
<ellipse cx="262.2" cy="492.9" rx="7.6" ry="5.1" fill="#3e5e3a"/>
<ellipse cx="285.9" cy="495" rx="7.6" ry="5.1" fill="#3f6432"/>
<ellipse cx="342.7" cy="494.6" rx="11.9" ry="4.7" fill="#6f9050"/>
<ellipse cx="330.8" cy="509" rx="29.6" ry="10.2" fill="#9aba66"/>
<ellipse cx="363.8" cy="509.9" rx="12.7" ry="16.9" fill="#94b464"/>
<ellipse cx="265.6" cy="526.8" rx="9.3" ry="13.5" fill="#6f9645"/>
<ellipse cx="262.2" cy="555.6" rx="7.6" ry="16.1" fill="#2f4f2a"/>
<ellipse cx="277.5" cy="543.7" rx="8.5" ry="10.2" fill="#86ac4c"/>
<ellipse cx="272.4" cy="568.3" rx="10.2" ry="9.3" fill="#aace6c"/>
<ellipse cx="292.7" cy="571.7" rx="13.5" ry="8.5" fill="#8eb258"/>
<ellipse cx="364.7" cy="553.9" rx="11" ry="14.4" fill="#88aa54"/>
<ellipse cx="337.6" cy="577.6" rx="19.5" ry="9.3" fill="#d2dac2"/>
<ellipse cx="262.2" cy="581" rx="9.3" ry="5.1" fill="#c6d4b0"/>
<ellipse cx="367.2" cy="579.3" rx="8.5" ry="5.1" fill="#a9c085"/>
<ellipse cx="308.8" cy="584.4" rx="10.2" ry="3.4" fill="#b5c898"/>
<ellipse cx="313.9" cy="531.9" rx="18.6" ry="16.9" fill="#a4ba84" fill-opacity="0.2"/>
<ellipse cx="294.4" cy="512.4" rx="6.8" ry="8.5" fill="#54744c" fill-opacity="0.6"/>
<ellipse cx="308.8" cy="552.2" rx="11.9" ry="8.5" fill="#6e8e58" fill-opacity="0.45"/>
<ellipse cx="264.8" cy="509.9" rx="5.9" ry="5.1" fill="#9cc46c" fill-opacity="0.8"/>
<ellipse cx="286.8" cy="526.8" rx="6.8" ry="5.9" fill="#8ebc5c" fill-opacity="0.7"/>
<ellipse cx="329.1" cy="555.6" rx="10.2" ry="8.5" fill="#7c9c5c" fill-opacity="0.5"/>
</g>
<polygon points="289.3,498.9 308.8,503.9 325.7,509.9 332.5,520.4 336.7,527.6 354.9,551.3 339.3,564.9 320.6,575.9 313.9,571.7 274.9,534.4 281.7,514.9" fill="#e0e6d4" fill-opacity="0.07" filter="url(#b1)"/>
<g filter="url(#b1)" fill="none" stroke-linecap="round">
<polyline points="274.9,534.4 283.4,542.4 296.9,555.6 310.5,568.3 315.2,572.9" stroke="#eef0ea" stroke-width="2.3" stroke-opacity="0.9"/>
<path d="M314.7,572.9 Q318.1,576.7 324.9,573.9" stroke="#eef2e8" stroke-width="1.6" stroke-opacity="0.9"/>
<polyline points="324.9,573.9 339.3,564.9 354.9,551.3" stroke="#e8ece0" stroke-width="0.9" stroke-opacity="0.45"/>
<path d="M332.5,526.8 Q322.3,547.1 316.4,560.7 T315.6,573.4" stroke="#f0f2ea" stroke-width="1.2" stroke-opacity="0.85"/>
<polyline points="336.7,527.6 344.4,537.8 354.9,551.3" stroke="#f4f6f0" stroke-width="1.5" stroke-opacity="0.9"/>
<polyline points="289.3,498.9 281.7,514.9 274.9,534.4" stroke="#dfe6d2" stroke-width="0.8" stroke-opacity="0.25"/>
<polyline points="289.3,498.9 308.8,503.9 325.7,509.9 332.5,520.4" stroke="#dfe6d2" stroke-width="0.8" stroke-opacity="0.25"/>
<polyline points="291,501.4 294.4,514.9 302,526.8 312.2,538.6 319,542.9" stroke="#cdb36c" stroke-width="1.4" stroke-opacity="0.6"/>
<polyline points="300.3,507.3 303.4,518.3 307.1,526.8" stroke="#cdb36c" stroke-width="1.1" stroke-opacity="0.55"/>
<ellipse cx="306.6" cy="529.3" rx="2.4" ry="1.5" fill="#fff" stroke="none" transform="rotate(-25 306.6 529.3)"/>
<ellipse cx="338.9" cy="535.3" rx="2.6" ry="1.3" fill="#f4f4e8" stroke="none" transform="rotate(20 338.9 535.3)"/>
<ellipse cx="282.9" cy="541.2" rx="2.2" ry="2.4" fill="#fff" stroke="none"/>
</g>
<polygon points="326.2,519.9 337.6,522.9 352.8,528.8 376.5,534.9 376.5,547.8 359.6,537.8 346,529.8 334.2,523.9" fill="#1b1613" filter="url(#b1)"/>
<polyline points="332.5,521.4 349.4,527.5 376.5,534.6" fill="none" stroke="#aab0b6" stroke-width="0.9" filter="url(#b1)"/>
</g>
<rect x="339.6" y="580" width="34.4" height="3.2" fill="#000"/></g>
<g><text x="581.6" y="460.3" font-size="20" font-weight="bold">j</text>
<rect x="590.1" y="486.3" width="74.8" height="139.4" fill="url(#gj1)"/>
<g clip-path="url(#cj1)">
<linearGradient id="gr1" x1="0" y1="0" x2="0" y2="1"><stop offset="0" stop-color="#a81222"/><stop offset="1" stop-color="#800a16"/></linearGradient>
<g filter="url(#b2)">
<path d="M601.5,592 L659.5,592 L660,606 L652.5,632 L603.5,632 L600.5,610 Z" fill="url(#gr1)"/>
</g>
<g filter="url(#b1)" fill="#ea142c"><ellipse cx="629.6" cy="518.4" rx="26.6" ry="22.4"/><ellipse cx="616.4" cy="499.6" rx="4.6" ry="4.2"/><ellipse cx="640.8" cy="498.6" rx="4.6" ry="4.2"/><ellipse cx="604" cy="521.6" rx="7.6" ry="7.4"/><ellipse cx="604.6" cy="543" rx="7.2" ry="17"/><path d="M608,534C607.2,536.3 604.2,543.3 603,548C601.8,552.7 601,557 600.6,562C600.2,567 600.3,573.7 600.4,578C600.5,582.3 600.7,585.6 601.2,588C601.7,590.4 601.5,591.1 603.5,592.2C605.5,593.3 609.9,594.5 613,594.6C616.1,594.7 619.2,593 622,592.6C624.8,592.2 627.3,591.9 630,592.2C632.7,592.5 635,594.2 638,594.4C641,594.6 644.6,593.6 648,593.2C651.4,592.8 656.4,593.4 658.5,592C660.6,590.6 660.2,588.3 660.6,585C661,581.7 661,576.2 660.8,572C660.6,567.8 660.4,564 659.6,560C658.8,556 657.3,551.7 656,548C654.7,544.3 653,540.7 652,538C651,535.3 653.7,533.7 650,532C646.3,530.3 633.3,528.7 630,528 Z"/></g>
<clipPath id="gr1c"><ellipse cx="629.6" cy="518.4" rx="26.6" ry="22.4"/><ellipse cx="616.4" cy="499.6" rx="4.6" ry="4.2"/><ellipse cx="640.8" cy="498.6" rx="4.6" ry="4.2"/><ellipse cx="604" cy="521.6" rx="7.6" ry="7.4"/><ellipse cx="604.6" cy="543" rx="7.2" ry="17"/><path d="M608,534C607.2,536.3 604.2,543.3 603,548C601.8,552.7 601,557 600.6,562C600.2,567 600.3,573.7 600.4,578C600.5,582.3 600.7,585.6 601.2,588C601.7,590.4 601.5,591.1 603.5,592.2C605.5,593.3 609.9,594.5 613,594.6C616.1,594.7 619.2,593 622,592.6C624.8,592.2 627.3,591.9 630,592.2C632.7,592.5 635,594.2 638,594.4C641,594.6 644.6,593.6 648,593.2C651.4,592.8 656.4,593.4 658.5,592C660.6,590.6 660.2,588.3 660.6,585C661,581.7 661,576.2 660.8,572C660.6,567.8 660.4,564 659.6,560C658.8,556 657.3,551.7 656,548C654.7,544.3 653,540.7 652,538C651,535.3 653.7,533.7 650,532C646.3,530.3 633.3,528.7 630,528 Z"/><rect x="600.5" y="594" width="60" height="40"/></clipPath>
<g clip-path="url(#gr1c)"><g filter="url(#b18)">
<ellipse cx="630" cy="541.5" rx="20" ry="3.2" fill="#9c0816" fill-opacity="0.5"/>
<ellipse cx="611" cy="538" rx="3" ry="9" fill="#9c0816" fill-opacity="0.4"/>
<ellipse cx="622" cy="574" rx="4" ry="13" fill="#9c0816" fill-opacity="0.3"/>
<ellipse cx="641" cy="576" rx="3.5" ry="12" fill="#9c0816" fill-opacity="0.3"/>
<ellipse cx="655" cy="542" rx="3" ry="8" fill="#9c0816" fill-opacity="0.35"/>
<ellipse cx="630" cy="590" rx="28" ry="3" fill="#9c0816" fill-opacity="0.3"/>
<ellipse cx="628" cy="511" rx="5" ry="9" fill="#ff7888" fill-opacity="0.55"/>
<ellipse cx="611" cy="568" rx="5" ry="9" fill="#ff7888" fill-opacity="0.3"/>
<ellipse cx="651" cy="566" rx="4" ry="10" fill="#ff7888" fill-opacity="0.3"/>
<ellipse cx="603" cy="521" rx="4" ry="4" fill="#ff7888" fill-opacity="0.3"/>
<ellipse cx="629" cy="549" rx="6" ry="5" fill="#ff7888" fill-opacity="0.2"/>
<ellipse cx="619" cy="517" rx="5" ry="2" fill="#9c0816" fill-opacity="0.35"/>
<ellipse cx="641" cy="517" rx="5" ry="2" fill="#9c0816" fill-opacity="0.35"/>
<ellipse cx="630" cy="527" rx="9" ry="2" fill="#9c0816" fill-opacity="0.25"/>
<ellipse cx="630" cy="556" rx="6" ry="5" fill="#9c0816" fill-opacity="0.2"/>
<ellipse cx="612" cy="612" rx="8" ry="9" fill="#c8161f" fill-opacity="0.5"/>
<ellipse cx="643" cy="604" rx="9" ry="7" fill="#c0141e" fill-opacity="0.5"/>
<ellipse cx="630" cy="625" rx="13" ry="5" fill="#a80e18" fill-opacity="0.5"/>
</g></g>
</g>
<rect x="633.9" y="613.7" width="26.1" height="3.7" fill="#fff"/>
<rect x="667.1" y="486.3" width="75.8" height="139.4" fill="#15171a"/>
<g clip-path="url(#cj2)">
<linearGradient id="gr2" x1="0" y1="0" x2="0" y2="1"><stop offset="0" stop-color="#8c7866"/><stop offset="1" stop-color="#6c5c4e"/></linearGradient>
<g filter="url(#b2)">
<path d="M675.6,592 L737.4,592 L737.9,606 L730.4,632 L677.6,632 L674.6,610 Z" fill="url(#gr2)"/>
</g>
<g filter="url(#b1)" fill="#dadcda"><ellipse cx="706.4" cy="516.2" rx="27.8" ry="24.4"/><ellipse cx="691.8" cy="496.6" rx="5.4" ry="5"/><ellipse cx="720.2" cy="495.4" rx="5.4" ry="5"/><ellipse cx="678.4" cy="524.6" rx="8" ry="9.4"/><ellipse cx="679.6" cy="545" rx="8.2" ry="17"/><ellipse cx="690" cy="540" rx="8" ry="8"/><path d="M684,536C683,538.3 679.5,545.7 678,550C676.5,554.3 675.6,557.7 675,562C674.4,566.3 674.5,571.7 674.6,576C674.7,580.3 675,585.1 675.4,588C675.8,590.9 674.6,592.3 677,593.6C679.4,594.9 686.2,595.9 690,596C693.8,596.1 697,594.4 700,594C703,593.6 705,593.3 708,593.6C711,593.9 714.3,595.8 718,596C721.7,596.2 726.9,595.1 730,594.6C733.1,594.1 735.2,594.8 736.6,593C738,591.2 737.9,587.5 738.2,584C738.5,580.5 738.6,576 738.4,572C738.2,568 737.8,563.7 737,560C736.2,556.3 734.8,553.3 733.6,550C732.4,546.7 730.9,542.7 730,540C729.1,537.3 732,536 728,534C724,532 709.7,529 706,528 Z"/></g>
<clipPath id="gr2c"><ellipse cx="706.4" cy="516.2" rx="27.8" ry="24.4"/><ellipse cx="691.8" cy="496.6" rx="5.4" ry="5"/><ellipse cx="720.2" cy="495.4" rx="5.4" ry="5"/><ellipse cx="678.4" cy="524.6" rx="8" ry="9.4"/><ellipse cx="679.6" cy="545" rx="8.2" ry="17"/><ellipse cx="690" cy="540" rx="8" ry="8"/><path d="M684,536C683,538.3 679.5,545.7 678,550C676.5,554.3 675.6,557.7 675,562C674.4,566.3 674.5,571.7 674.6,576C674.7,580.3 675,585.1 675.4,588C675.8,590.9 674.6,592.3 677,593.6C679.4,594.9 686.2,595.9 690,596C693.8,596.1 697,594.4 700,594C703,593.6 705,593.3 708,593.6C711,593.9 714.3,595.8 718,596C721.7,596.2 726.9,595.1 730,594.6C733.1,594.1 735.2,594.8 736.6,593C738,591.2 737.9,587.5 738.2,584C738.5,580.5 738.6,576 738.4,572C738.2,568 737.8,563.7 737,560C736.2,556.3 734.8,553.3 733.6,550C732.4,546.7 730.9,542.7 730,540C729.1,537.3 732,536 728,534C724,532 709.7,529 706,528 Z"/><rect x="674.6" y="594" width="63.8" height="40"/></clipPath>
<g clip-path="url(#gr2c)"><g filter="url(#b18)">
<ellipse cx="708" cy="542" rx="20" ry="3" fill="#8e908c" fill-opacity="0.35"/>
<ellipse cx="687" cy="541" rx="3" ry="9" fill="#8e908c" fill-opacity="0.25"/>
<ellipse cx="700" cy="577" rx="4" ry="12" fill="#8e908c" fill-opacity="0.2"/>
<ellipse cx="720" cy="577" rx="3.2" ry="11" fill="#8e908c" fill-opacity="0.2"/>
<ellipse cx="705" cy="510" rx="9" ry="11" fill="#ffffff" fill-opacity="0.5"/>
<ellipse cx="686" cy="572" rx="5.5" ry="11" fill="#ffffff" fill-opacity="0.3"/>
<ellipse cx="730" cy="570" rx="4.5" ry="11" fill="#ffffff" fill-opacity="0.3"/>
<ellipse cx="707" cy="550" rx="6.5" ry="5" fill="#ffffff" fill-opacity="0.25"/>
<ellipse cx="678" cy="528" rx="5" ry="8" fill="#ffffff" fill-opacity="0.25"/>
<ellipse cx="684" cy="584" rx="11" ry="9" fill="#eeb898" fill-opacity="0.55"/>
<ellipse cx="710" cy="590.5" rx="26" ry="4" fill="#e8c2a8" fill-opacity="0.55"/>
<ellipse cx="700" cy="603" rx="17" ry="6" fill="#9a8c80" fill-opacity="0.4"/>
<ellipse cx="724" cy="616" rx="11" ry="9" fill="#6e645c" fill-opacity="0.35"/>
</g></g>
</g>
<rect x="712.5" y="613.7" width="25.9" height="3.7" fill="#fff"/></g>
<g><text x="380.3" y="459.6" font-size="20" font-weight="bold">i</text>
<text x="400.5" y="458.7" font-size="15" font-weight="bold" textLength="42.6" lengthAdjust="spacingAndGlyphs">PDMS</text>
<rect x="392.9" y="462.7" width="56.2" height="57.8" fill="#fff" stroke="#000" stroke-width="1.1"/>
<rect x="392.4" y="511.2" width="57.2" height="9.6" fill="#000"/>
<g filter="url(#b1)">
<path d="M404.9,512 A19.8,19.8 0 1 1 443.7,512 Z" fill="#000"/>
<ellipse cx="423.2" cy="506.6" rx="6" ry="4.3" fill="#fff"/>
</g>
<polyline points="396.9,474.6 403.6,511.2 440.9,511.2" fill="none" stroke="#ffc000" stroke-width="2.6" stroke-linejoin="miter"/>
<text x="408" y="482" font-size="14.5" font-family="'Liberation Serif', 'Times New Roman', serif" font-weight="bold" textLength="21.4" lengthAdjust="spacingAndGlyphs">101</text>
<text x="429.6" y="477.4" font-size="9.5" font-family="'Liberation Serif', 'Times New Roman', serif" font-weight="bold" textLength="5.6" lengthAdjust="spacingAndGlyphs">o</text>
<g filter="url(#b1)">
<path d="M457,519.2 L517,518 L512,521 L495,522.8 L470,523.4 L460,522.2 Z" fill="#a8a8a8"/>
<path d="M464.7,519 A21.7,21.7 0 1 1 507.9,519 Z" fill="#000"/>
<rect x="479.6" y="513.8" width="12" height="4" rx="1.5" fill="#fff"/>
</g>
<polyline points="462.4,474.1 462.4,518.9 506.5,518.9" fill="none" stroke="#ffc000" stroke-width="2.6" stroke-linejoin="miter"/>
<text x="472.4" y="485.8" font-size="14.5" font-family="'Liberation Serif', 'Times New Roman', serif" font-weight="bold" textLength="14.6" lengthAdjust="spacingAndGlyphs">91</text>
<text x="487.6" y="481.2" font-size="9.5" font-family="'Liberation Serif', 'Times New Roman', serif" font-weight="bold" textLength="5.6" lengthAdjust="spacingAndGlyphs">o</text>
<g filter="url(#b1)">
<path d="M518.4,504.6 L574,504.2 L574,512.2 L560,512.6 L545,511.8 L530,512.8 L518.6,511.6 Z" fill="#6a6a6a"/>
<path d="M519,507.5 L530,509 L541,507 L552,509.5 L563,507.4 L573.5,509" fill="none" stroke="#c8c8c8" stroke-width="1.3"/>
<path d="M519,510.4 L532,511 L546,509.6 L558,511.2 L573.5,510.4" fill="none" stroke="#2a2a2a" stroke-width="1"/>
<path d="M527.5,505.4 A20.1,20.1 0 1 1 567.5,505.4 Z" fill="#000"/>
<rect x="540" y="499.2" width="13" height="4.6" rx="1.8" fill="#fff"/>
</g>
<polyline points="521.9,467.9 526.5,505.2 563.9,505.2" fill="none" stroke="#ffc000" stroke-width="2.6" stroke-linejoin="miter"/>
<text x="539.8" y="471.5" font-size="14.5" font-family="'Liberation Serif', 'Times New Roman', serif" font-weight="bold" textLength="14.6" lengthAdjust="spacingAndGlyphs">97</text>
<text x="555" y="466.9" font-size="9.5" font-family="'Liberation Serif', 'Times New Roman', serif" font-weight="bold" textLength="5.6" lengthAdjust="spacingAndGlyphs">o</text>
<rect x="400.8" y="569.3" width="51.1" height="6.8" fill="#000"/>
<g filter="url(#b1)">
<path d="M405.4,570 C407,559 416,553.6 426.5,553.6 C437,553.6 446,559 447.7,570 Z" fill="#000"/>
<ellipse cx="425.3" cy="566.3" rx="6" ry="1.8" fill="#9a9a9a"/>
</g>
<polyline points="414.7,538.7 404.6,569.3 434.5,569.3" fill="none" stroke="#ffc000" stroke-width="2.6" stroke-linejoin="miter"/>
<text x="423.7" y="547.7" font-size="14.5" font-family="'Liberation Serif', 'Times New Roman', serif" font-weight="bold" textLength="14.6" lengthAdjust="spacingAndGlyphs">72</text>
<text x="438.6" y="543.1" font-size="9.5" font-family="'Liberation Serif', 'Times New Roman', serif" font-weight="bold" textLength="5.6" lengthAdjust="spacingAndGlyphs">o</text>
<text x="410.1" y="597.4" font-size="12.6" font-family="'Liberation Serif', 'Times New Roman', serif" textLength="17.4" lengthAdjust="spacingAndGlyphs" fill="#1a1a1a">CH</text>
<text x="427.7" y="600" font-size="8.4" font-family="'Liberation Serif', 'Times New Roman', serif" textLength="4.4" lengthAdjust="spacingAndGlyphs" fill="#1a1a1a">3</text>
<polyline points="415.9,601.8 423.7,614.9" fill="none" stroke="#000" stroke-width="1.6" stroke-linejoin="round"/>
<polyline points="407.9,614.9 408.5,615.7 409.1,615.7 409.7,614.9 410.3,614.1 410.9,614.2 411.6,615 412.2,615.7 412.8,615.6 413.4,614.8 414,614.1 414.6,614.2 415.2,615.1 415.8,615.8 416.4,615.5 417,614.7 417.7,614 418.3,614.3 418.9,615.2 419.5,615.8 420.1,615.5 420.7,614.6 421.3,614 421.9,614.4 422.5,615.3 423.1,615.8 423.8,615.4 424.4,614.5 425,614 425.6,614.4 426.2,615.4 426.8,615.8 427.4,615.3 428,614.4 428.6,614 429.2,614.5 429.9,615.4 430.5,615.8 431.1,615.2 431.7,614.3 432.3,614 432.9,614.6 433.5,615.5 434.1,615.8 434.7,615.1 435.3,614.3 436,614 436.6,614.7 437.2,615.6 437.8,615.8 438.4,615.1" fill="none" stroke="#000" stroke-width="1.5"/>
<text x="409.6" y="632.9" font-size="16.2" font-family="'Liberation Serif', 'Times New Roman', serif" font-weight="bold" textLength="29" lengthAdjust="spacingAndGlyphs">v-δ1</text>
<text x="474.7" y="557" font-size="12.6" font-family="'Liberation Serif', 'Times New Roman', serif" textLength="17.4" lengthAdjust="spacingAndGlyphs" fill="#1a1a1a">CH</text>
<text x="492.3" y="559.6" font-size="8.4" font-family="'Liberation Serif', 'Times New Roman', serif" textLength="4.4" lengthAdjust="spacingAndGlyphs" fill="#1a1a1a">3</text>
<polyline points="479.7,561.9 472.4,575.2 479.7,588.5 472.4,601.8 479.7,614.4" fill="none" stroke="#000" stroke-width="1.6" stroke-linejoin="round" stroke-linejoin="miter"/>
<polyline points="463.7,614.9 464.3,615.7 464.9,615.7 465.5,614.9 466.1,614.1 466.7,614.1 467.3,615 467.9,615.7 468.5,615.6 469.2,614.8 469.8,614.1 470.4,614.2 471,615 471.6,615.7 472.2,615.6 472.8,614.8 473.4,614.1 474,614.2 474.6,615.1 475.2,615.8 475.8,615.6 476.4,614.7 477,614 477.6,614.2 478.2,615.1 478.8,615.8 479.5,615.5 480.1,614.7 480.7,614 481.3,614.3 481.9,615.2 482.5,615.8 483.1,615.5 483.7,614.6 484.3,614 484.9,614.3 485.5,615.2 486.1,615.8 486.7,615.4 487.3,614.5 487.9,614 488.5,614.4 489.1,615.3 489.8,615.8 490.4,615.4 491,614.5 491.6,614 492.2,614.4 492.8,615.3 493.4,615.8 494,615.4 494.6,614.4" fill="none" stroke="#000" stroke-width="1.5"/>
<text x="463.4" y="632.9" font-size="16.2" font-family="'Liberation Serif', 'Times New Roman', serif" font-weight="bold" textLength="29.6" lengthAdjust="spacingAndGlyphs">v-δ4</text>
<text x="534.7" y="531.8" font-size="12.6" font-family="'Liberation Serif', 'Times New Roman', serif" textLength="17.4" lengthAdjust="spacingAndGlyphs" fill="#1a1a1a">CH</text>
<text x="552.3" y="534.4" font-size="8.4" font-family="'Liberation Serif', 'Times New Roman', serif" textLength="4.4" lengthAdjust="spacingAndGlyphs" fill="#1a1a1a">3</text>
<polyline points="538.9,536.4 531.6,549.4 539.2,562.6 531.6,575.9 539.2,589.5 531.6,602.7 538.4,614.9" fill="none" stroke="#000" stroke-width="1.6" stroke-linejoin="round" stroke-linejoin="miter"/>
<polyline points="523.7,614.9 524.3,615.7 524.9,615.7 525.5,614.9 526.1,614.1 526.7,614.1 527.3,614.9 527.9,615.7 528.5,615.7 529.1,614.8 529.7,614.1 530.3,614.2 530.9,615 531.6,615.7 532.2,615.6 532.8,614.8 533.4,614.1 534,614.2 534.6,615 535.2,615.7 535.8,615.6 536.4,614.8 537,614.1 537.6,614.2 538.2,615 538.8,615.7 539.4,615.6 540,614.7 540.6,614 541.2,614.2 541.8,615.1 542.4,615.8 543,615.6 543.6,614.7 544.2,614 544.8,614.2 545.4,615.1 546,615.8 546.6,615.5 547.3,614.7 547.9,614 548.5,614.3 549.1,615.2 549.7,615.8 550.3,615.5 550.9,614.6 551.5,614 552.1,614.3 552.7,615.2 553.3,615.8 553.9,615.5 554.5,614.6" fill="none" stroke="#000" stroke-width="1.5"/>
<text x="524.4" y="632.9" font-size="16.2" font-family="'Liberation Serif', 'Times New Roman', serif" font-weight="bold" textLength="29" lengthAdjust="spacingAndGlyphs">v-δ7</text></g>
</svg>
</body></html>
